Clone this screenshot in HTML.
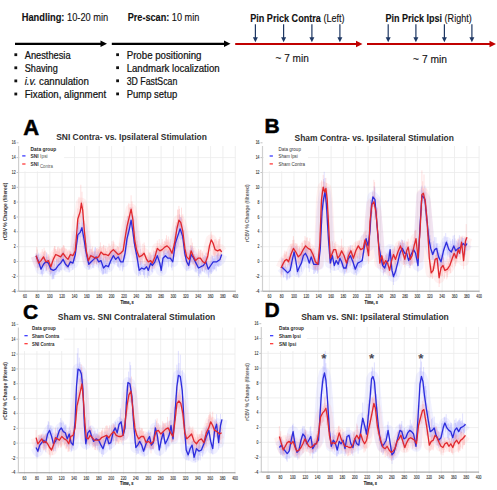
<!DOCTYPE html>
<html><head><meta charset="utf-8"><style>
html,body{margin:0;padding:0;background:#fff;}
svg{display:block;font-family:"Liberation Sans", sans-serif;}
</style></head><body>
<svg width="497" height="490" viewBox="0 0 497 490">
<rect width="497" height="490" fill="#fff"/>
<text x="21.7" y="21.2" font-size="10.6" fill="#111" stroke="#111" stroke-width="0.12" textLength="86.6" lengthAdjust="spacingAndGlyphs" xml:space="preserve"><tspan font-weight="bold">Handling:</tspan> 10-20 min</text>
<text x="127.7" y="21.2" font-size="10.6" fill="#111" stroke="#111" stroke-width="0.12" textLength="71.6" lengthAdjust="spacingAndGlyphs" xml:space="preserve"><tspan font-weight="bold">Pre-scan:</tspan> 10 min</text>
<text x="250.2" y="21.5" font-size="10.6" fill="#111" stroke="#111" stroke-width="0.12" textLength="94.4" lengthAdjust="spacingAndGlyphs" xml:space="preserve"><tspan font-weight="bold">Pin Prick Contra</tspan> (Left)</text>
<text x="385.4" y="21.5" font-size="10.6" fill="#111" stroke="#111" stroke-width="0.12" textLength="86.3" lengthAdjust="spacingAndGlyphs" xml:space="preserve"><tspan font-weight="bold">Pin Prick Ipsi</tspan> (Right)</text>
<text x="275.5" y="62.1" font-size="10.6" fill="#111" stroke="#111" stroke-width="0.12" textLength="33.3" lengthAdjust="spacingAndGlyphs" xml:space="preserve">~ 7 min</text>
<text x="413.1" y="63.2" font-size="10.6" fill="#111" stroke="#111" stroke-width="0.12" textLength="34.0" lengthAdjust="spacingAndGlyphs" xml:space="preserve">~ 7 min</text>
<line x1="15" y1="43.8" x2="101.0" y2="43.8" stroke="#000" stroke-width="2.2"/>
<polygon points="107,43.8 100.5,40.599999999999994 100.5,47.0" fill="#000"/>
<line x1="111.8" y1="43.8" x2="224.5" y2="43.8" stroke="#000" stroke-width="2.2"/>
<polygon points="230.5,43.8 224.0,40.599999999999994 224.0,47.0" fill="#000"/>
<line x1="235.2" y1="44.0" x2="356.5" y2="44.0" stroke="#c00000" stroke-width="2.2"/>
<polygon points="362.5,44.0 356.0,40.8 356.0,47.2" fill="#c00000"/>
<line x1="367" y1="44.0" x2="490.0" y2="44.0" stroke="#c00000" stroke-width="2.2"/>
<polygon points="496,44.0 489.5,40.8 489.5,47.2" fill="#c00000"/>
<line x1="255.4" y1="24.2" x2="255.4" y2="39.2" stroke="#1f3864" stroke-width="1.2"/>
<polygon points="255.4,42.2 252.9,37.2 257.9,37.2" fill="#1f3864"/>
<line x1="283.6" y1="24.2" x2="283.6" y2="39.2" stroke="#1f3864" stroke-width="1.2"/>
<polygon points="283.6,42.2 281.1,37.2 286.1,37.2" fill="#1f3864"/>
<line x1="311.9" y1="24.2" x2="311.9" y2="39.2" stroke="#1f3864" stroke-width="1.2"/>
<polygon points="311.9,42.2 309.4,37.2 314.4,37.2" fill="#1f3864"/>
<line x1="339.9" y1="24.2" x2="339.9" y2="39.2" stroke="#1f3864" stroke-width="1.2"/>
<polygon points="339.9,42.2 337.4,37.2 342.4,37.2" fill="#1f3864"/>
<line x1="388.2" y1="24.2" x2="388.2" y2="39.2" stroke="#1f3864" stroke-width="1.2"/>
<polygon points="388.2,42.2 385.7,37.2 390.7,37.2" fill="#1f3864"/>
<line x1="415.9" y1="24.2" x2="415.9" y2="39.2" stroke="#1f3864" stroke-width="1.2"/>
<polygon points="415.9,42.2 413.4,37.2 418.4,37.2" fill="#1f3864"/>
<line x1="444.4" y1="24.2" x2="444.4" y2="39.2" stroke="#1f3864" stroke-width="1.2"/>
<polygon points="444.4,42.2 441.9,37.2 446.9,37.2" fill="#1f3864"/>
<line x1="471.9" y1="24.2" x2="471.9" y2="39.2" stroke="#1f3864" stroke-width="1.2"/>
<polygon points="471.9,42.2 469.4,37.2 474.4,37.2" fill="#1f3864"/>
<rect x="14.4" y="53.3" width="2.8" height="2.8" fill="#111"/>
<text x="24.7" y="58.5" font-size="10.4" fill="#111" stroke="#111" stroke-width="0.22" textLength="45.9" lengthAdjust="spacingAndGlyphs">Anesthesia</text>
<rect x="14.4" y="66.39999999999999" width="2.8" height="2.8" fill="#111"/>
<text x="24.7" y="71.6" font-size="10.4" fill="#111" stroke="#111" stroke-width="0.22" textLength="33.099999999999994" lengthAdjust="spacingAndGlyphs">Shaving</text>
<rect x="14.4" y="79.5" width="2.8" height="2.8" fill="#111"/>
<text x="24.7" y="84.7" font-size="10.4" fill="#111" stroke="#111" stroke-width="0.22" textLength="64.1" lengthAdjust="spacingAndGlyphs"><tspan font-style="italic">i.v.</tspan> cannulation</text>
<rect x="14.4" y="92.6" width="2.8" height="2.8" fill="#111"/>
<text x="24.7" y="97.8" font-size="10.4" fill="#111" stroke="#111" stroke-width="0.22" textLength="81.5" lengthAdjust="spacingAndGlyphs">Fixation, alignment</text>
<rect x="116.2" y="53.3" width="2.8" height="2.8" fill="#111"/>
<text x="126.7" y="58.5" font-size="10.4" fill="#111" stroke="#111" stroke-width="0.22" textLength="74.8" lengthAdjust="spacingAndGlyphs">Probe positioning</text>
<rect x="116.2" y="66.3" width="2.8" height="2.8" fill="#111"/>
<text x="126.7" y="71.5" font-size="10.4" fill="#111" stroke="#111" stroke-width="0.22" textLength="92.89999999999999" lengthAdjust="spacingAndGlyphs">Landmark localization</text>
<rect x="116.2" y="79.39999999999999" width="2.8" height="2.8" fill="#111"/>
<text x="126.7" y="84.6" font-size="10.4" fill="#111" stroke="#111" stroke-width="0.22" textLength="50.599999999999994" lengthAdjust="spacingAndGlyphs">3D FastScan</text>
<rect x="116.2" y="92.5" width="2.8" height="2.8" fill="#111"/>
<text x="126.7" y="97.7" font-size="10.4" fill="#111" stroke="#111" stroke-width="0.22" textLength="50.599999999999994" lengthAdjust="spacingAndGlyphs">Pump setup</text>
<path d="M25.0 146.0V292.7 M37.4 146.0V292.7 M49.8 146.0V292.7 M62.1 146.0V292.7 M74.5 146.0V292.7 M86.9 146.0V292.7 M99.2 146.0V292.7 M111.6 146.0V292.7 M124.0 146.0V292.7 M136.3 146.0V292.7 M148.7 146.0V292.7 M161.1 146.0V292.7 M173.4 146.0V292.7 M185.8 146.0V292.7 M198.2 146.0V292.7 M210.6 146.0V292.7 M222.9 146.0V292.7 M235.3 146.0V292.7 M18.6 276.3H235.3 M18.6 261.5H235.3 M18.6 246.7H235.3 M18.6 231.8H235.3 M18.6 217.0H235.3 M18.6 202.1H235.3 M18.6 187.3H235.3 M18.6 172.5H235.3 M18.6 157.6H235.3" stroke="#ebebeb" stroke-width="0.8" fill="none"/>
<path d="M16.6 291.2H18.6 M16.6 276.3H18.6 M16.6 261.5H18.6 M16.6 246.7H18.6 M16.6 231.8H18.6 M16.6 217.0H18.6 M16.6 202.1H18.6 M16.6 187.3H18.6 M16.6 172.5H18.6 M16.6 157.6H18.6 M16.6 142.8H18.6" stroke="#999" stroke-width="0.6"/>
<line x1="18.6" y1="146.0" x2="18.6" y2="291.18" stroke="#cfcfcf" stroke-width="1.2"/>
<line x1="18.6" y1="291.18" x2="235.78799999999998" y2="291.18" stroke="#8a8a8a" stroke-width="0.9"/>
<text x="15.6" y="292.8" font-size="4.8" font-weight="normal" fill="#333" text-anchor="end" textLength="3.8" lengthAdjust="spacingAndGlyphs" stroke="#333" stroke-width="0.12">-4</text>
<text x="15.6" y="277.9" font-size="4.8" font-weight="normal" fill="#333" text-anchor="end" textLength="3.8" lengthAdjust="spacingAndGlyphs" stroke="#333" stroke-width="0.12">-2</text>
<text x="15.6" y="263.1" font-size="4.8" font-weight="normal" fill="#333" text-anchor="end" textLength="1.9" lengthAdjust="spacingAndGlyphs" stroke="#333" stroke-width="0.12">0</text>
<text x="15.6" y="248.3" font-size="4.8" font-weight="normal" fill="#333" text-anchor="end" textLength="1.9" lengthAdjust="spacingAndGlyphs" stroke="#333" stroke-width="0.12">2</text>
<text x="15.6" y="233.4" font-size="4.8" font-weight="normal" fill="#333" text-anchor="end" textLength="1.9" lengthAdjust="spacingAndGlyphs" stroke="#333" stroke-width="0.12">4</text>
<text x="15.6" y="218.6" font-size="4.8" font-weight="normal" fill="#333" text-anchor="end" textLength="1.9" lengthAdjust="spacingAndGlyphs" stroke="#333" stroke-width="0.12">6</text>
<text x="15.6" y="203.7" font-size="4.8" font-weight="normal" fill="#333" text-anchor="end" textLength="1.9" lengthAdjust="spacingAndGlyphs" stroke="#333" stroke-width="0.12">8</text>
<text x="15.6" y="188.9" font-size="4.8" font-weight="normal" fill="#333" text-anchor="end" textLength="3.8" lengthAdjust="spacingAndGlyphs" stroke="#333" stroke-width="0.12">10</text>
<text x="15.6" y="174.1" font-size="4.8" font-weight="normal" fill="#333" text-anchor="end" textLength="3.8" lengthAdjust="spacingAndGlyphs" stroke="#333" stroke-width="0.12">12</text>
<text x="15.6" y="159.2" font-size="4.8" font-weight="normal" fill="#333" text-anchor="end" textLength="3.8" lengthAdjust="spacingAndGlyphs" stroke="#333" stroke-width="0.12">14</text>
<text x="15.6" y="144.4" font-size="4.8" font-weight="normal" fill="#333" text-anchor="end" textLength="3.8" lengthAdjust="spacingAndGlyphs" stroke="#333" stroke-width="0.12">16</text>
<text x="25.0" y="298.1" font-size="4.8" font-weight="normal" fill="#333" text-anchor="middle" textLength="3.8" lengthAdjust="spacingAndGlyphs" stroke="#333" stroke-width="0.12">60</text>
<text x="37.4" y="298.1" font-size="4.8" font-weight="normal" fill="#333" text-anchor="middle" textLength="3.8" lengthAdjust="spacingAndGlyphs" stroke="#333" stroke-width="0.12">80</text>
<text x="49.8" y="298.1" font-size="4.8" font-weight="normal" fill="#333" text-anchor="middle" textLength="5.7" lengthAdjust="spacingAndGlyphs" stroke="#333" stroke-width="0.12">100</text>
<text x="62.1" y="298.1" font-size="4.8" font-weight="normal" fill="#333" text-anchor="middle" textLength="5.7" lengthAdjust="spacingAndGlyphs" stroke="#333" stroke-width="0.12">120</text>
<text x="74.5" y="298.1" font-size="4.8" font-weight="normal" fill="#333" text-anchor="middle" textLength="5.7" lengthAdjust="spacingAndGlyphs" stroke="#333" stroke-width="0.12">140</text>
<text x="86.9" y="298.1" font-size="4.8" font-weight="normal" fill="#333" text-anchor="middle" textLength="5.7" lengthAdjust="spacingAndGlyphs" stroke="#333" stroke-width="0.12">160</text>
<text x="99.2" y="298.1" font-size="4.8" font-weight="normal" fill="#333" text-anchor="middle" textLength="5.7" lengthAdjust="spacingAndGlyphs" stroke="#333" stroke-width="0.12">180</text>
<text x="111.6" y="298.1" font-size="4.8" font-weight="normal" fill="#333" text-anchor="middle" textLength="5.7" lengthAdjust="spacingAndGlyphs" stroke="#333" stroke-width="0.12">200</text>
<text x="124.0" y="298.1" font-size="4.8" font-weight="normal" fill="#333" text-anchor="middle" textLength="5.7" lengthAdjust="spacingAndGlyphs" stroke="#333" stroke-width="0.12">220</text>
<text x="136.3" y="298.1" font-size="4.8" font-weight="normal" fill="#333" text-anchor="middle" textLength="5.7" lengthAdjust="spacingAndGlyphs" stroke="#333" stroke-width="0.12">240</text>
<text x="148.7" y="298.1" font-size="4.8" font-weight="normal" fill="#333" text-anchor="middle" textLength="5.7" lengthAdjust="spacingAndGlyphs" stroke="#333" stroke-width="0.12">260</text>
<text x="161.1" y="298.1" font-size="4.8" font-weight="normal" fill="#333" text-anchor="middle" textLength="5.7" lengthAdjust="spacingAndGlyphs" stroke="#333" stroke-width="0.12">280</text>
<text x="173.4" y="298.1" font-size="4.8" font-weight="normal" fill="#333" text-anchor="middle" textLength="5.7" lengthAdjust="spacingAndGlyphs" stroke="#333" stroke-width="0.12">300</text>
<text x="185.8" y="298.1" font-size="4.8" font-weight="normal" fill="#333" text-anchor="middle" textLength="5.7" lengthAdjust="spacingAndGlyphs" stroke="#333" stroke-width="0.12">320</text>
<text x="198.2" y="298.1" font-size="4.8" font-weight="normal" fill="#333" text-anchor="middle" textLength="5.7" lengthAdjust="spacingAndGlyphs" stroke="#333" stroke-width="0.12">340</text>
<text x="210.6" y="298.1" font-size="4.8" font-weight="normal" fill="#333" text-anchor="middle" textLength="5.7" lengthAdjust="spacingAndGlyphs" stroke="#333" stroke-width="0.12">360</text>
<text x="222.9" y="298.1" font-size="4.8" font-weight="normal" fill="#333" text-anchor="middle" textLength="5.7" lengthAdjust="spacingAndGlyphs" stroke="#333" stroke-width="0.12">380</text>
<text x="235.3" y="298.1" font-size="4.8" font-weight="normal" fill="#333" text-anchor="middle" textLength="5.7" lengthAdjust="spacingAndGlyphs" stroke="#333" stroke-width="0.12">400</text>
<text x="127.1" y="303.8" font-size="5.4" font-weight="bold" fill="#222" text-anchor="middle" textLength="13.2" lengthAdjust="spacingAndGlyphs" stroke="#222" stroke-width="0.2">Time, s</text>
<text x="7.300000000000001" y="211.5" font-size="4.6" font-weight="bold" fill="#333" text-anchor="middle" transform="rotate(-90 7.300000000000001 211.5)" textLength="57.5" lengthAdjust="spacingAndGlyphs">rCBV % Change (filtered)</text>
<text x="23.2" y="134.9" font-size="22" font-weight="bold" fill="#000" stroke="#000" stroke-width="0.5">A</text>
<text x="56.2" y="139.9" font-size="9.9" font-weight="bold" fill="#303030" text-anchor="start" textLength="150.6" lengthAdjust="spacingAndGlyphs">SNI Contra- vs. Ipsilateral Stimulation</text>
<path d="M36.1 253.4V260.6 M36.7 253.8V262.2 M37.3 255.3V267.6 M38.0 254.4V267.8 M38.6 252.6V267.0 M39.2 258.7V266.2 M39.8 257.7V267.8 M40.4 263.2V270.1 M41.0 261.9V274.1 M41.6 262.7V273.5 M42.2 258.3V276.5 M42.9 261.3V274.3 M43.5 257.2V271.3 M44.1 253.9V266.7 M44.7 259.3V268.2 M45.3 258.7V266.1 M45.9 258.9V271.0 M46.5 252.5V270.9 M47.1 254.5V266.9 M47.8 259.0V267.2 M48.4 261.0V265.6 M49.0 259.6V269.1 M49.6 259.5V271.9 M50.2 265.3V276.1 M50.8 264.5V274.3 M51.4 265.3V273.7 M52.0 260.6V279.4 M52.7 267.2V279.3 M53.3 262.3V278.6 M53.9 266.6V279.1 M54.5 263.8V274.7 M55.1 267.4V274.9 M55.7 266.4V272.8 M56.3 259.6V272.3 M56.9 259.2V271.5 M57.6 264.0V270.8 M58.2 262.7V268.2 M58.8 258.1V271.9 M59.4 261.4V271.6 M60.0 258.1V266.1 M60.6 260.7V270.1 M61.2 253.0V270.4 M61.8 255.1V263.5 M62.4 252.7V262.5 M63.1 251.2V261.7 M63.7 250.7V265.7 M64.3 258.7V264.2 M64.9 259.6V270.1 M65.5 260.8V266.6 M66.1 257.4V267.7 M66.7 262.7V268.6 M67.3 263.5V269.4 M68.0 264.5V268.8 M68.6 263.0V269.9 M69.2 255.1V272.6 M69.8 257.4V265.8 M70.4 252.6V265.3 M71.0 256.7V267.9 M71.6 257.9V265.6 M72.2 253.8V265.2 M72.9 259.1V270.0 M73.5 257.4V263.0 M74.1 256.4V266.2 M74.7 250.7V260.9 M75.3 244.7V261.4 M75.9 246.3V252.8 M76.5 232.3V249.7 M77.1 231.7V244.5 M77.8 219.5V242.4 M78.4 220.9V239.6 M79.0 222.7V236.0 M79.6 230.1V237.3 M80.2 227.4V244.6 M81.1 225.7V237.1 M81.9 212.0V234.5 M82.6 215.9V240.2 M83.2 222.9V237.7 M83.9 233.7V249.0 M84.5 236.6V251.1 M85.1 237.4V257.2 M85.7 242.6V260.3 M86.3 243.4V260.8 M86.9 245.2V263.1 M87.6 253.7V267.1 M88.2 254.4V267.3 M88.8 256.8V269.9 M89.4 254.8V269.2 M90.0 254.1V267.9 M90.6 254.4V264.5 M91.2 252.4V264.4 M91.8 256.8V264.7 M92.4 252.3V267.5 M93.1 255.2V262.3 M93.7 254.1V268.2 M94.3 249.6V262.6 M94.9 247.5V261.8 M95.5 247.2V260.0 M96.1 254.8V263.4 M96.7 254.2V264.6 M97.3 254.0V262.4 M98.0 251.4V262.7 M98.6 258.2V267.7 M99.2 255.2V265.4 M99.8 257.7V264.1 M100.4 252.6V265.3 M101.0 257.5V269.5 M101.6 254.6V271.2 M102.2 258.5V274.2 M102.9 261.6V275.1 M103.5 258.4V274.1 M104.1 262.0V273.7 M104.7 259.8V270.0 M105.3 256.2V273.4 M105.9 256.2V274.1 M106.5 262.9V267.9 M107.1 262.8V274.1 M107.8 257.0V269.7 M108.4 262.6V268.7 M109.0 261.2V267.9 M109.6 257.2V270.0 M110.2 253.0V264.6 M110.8 257.0V263.8 M111.4 252.6V264.2 M112.0 251.5V260.2 M112.7 253.7V262.6 M113.3 247.9V263.9 M113.9 253.8V262.4 M114.5 254.1V264.3 M115.1 249.0V261.3 M115.7 257.2V263.2 M116.3 249.4V260.9 M116.9 255.7V262.6 M117.6 252.8V266.5 M118.2 254.9V266.7 M118.8 254.4V268.1 M119.4 252.3V262.1 M120.0 257.7V270.5 M120.6 258.5V265.6 M121.2 254.3V265.5 M121.8 252.2V264.4 M122.4 259.5V271.4 M123.1 257.1V269.5 M123.7 255.1V267.1 M124.4 250.4V258.7 M125.0 247.4V259.6 M125.7 236.0V258.4 M126.3 230.5V251.6 M127.0 226.8V245.5 M127.6 226.8V245.0 M128.2 225.5V239.1 M128.8 221.6V236.2 M129.4 222.0V234.8 M130.3 219.8V227.4 M131.1 207.1V223.4 M132.0 220.9V230.3 M132.8 222.0V236.7 M133.5 233.0V244.1 M134.1 230.7V243.0 M134.8 240.4V249.7 M135.4 241.1V254.8 M136.1 244.5V257.8 M136.8 252.1V258.9 M137.4 257.1V267.8 M138.0 257.0V267.1 M138.6 260.7V276.2 M139.2 264.1V273.3 M139.8 267.4V274.1 M140.4 260.9V275.0 M141.0 262.7V270.6 M141.7 261.3V271.5 M142.3 265.7V272.0 M142.9 264.3V270.7 M143.5 266.0V275.0 M144.1 264.1V275.8 M144.7 263.8V278.4 M145.3 264.1V270.1 M145.9 264.0V270.7 M146.6 257.3V268.9 M147.4 258.8V278.1 M148.3 263.2V274.7 M148.9 259.3V276.4 M149.5 262.4V272.2 M150.1 259.5V267.4 M150.7 254.4V265.3 M151.6 262.0V271.6 M152.4 258.6V272.4 M153.0 262.4V268.9 M153.7 254.6V267.1 M154.3 259.8V266.2 M154.9 253.2V264.9 M155.5 257.0V265.6 M156.1 253.0V263.2 M156.7 255.0V262.7 M157.3 253.6V265.4 M157.9 250.0V263.2 M158.6 252.5V264.6 M159.2 252.1V266.7 M159.8 255.2V265.6 M160.5 262.4V272.4 M161.2 262.5V272.7 M162.1 257.6V273.6 M163.0 254.4V263.2 M163.6 250.8V266.3 M164.2 252.6V261.8 M164.8 247.9V264.5 M165.4 253.0V261.5 M166.0 249.5V258.5 M166.6 253.0V262.0 M167.2 251.4V260.4 M167.9 251.2V262.5 M168.5 249.9V267.3 M169.1 250.5V260.7 M169.7 253.4V261.1 M170.3 250.9V262.0 M170.9 250.4V262.0 M171.5 257.2V267.8 M172.1 252.5V270.5 M172.8 259.5V265.9 M173.4 251.9V260.7 M174.0 243.2V256.7 M174.6 243.9V253.8 M175.2 233.9V250.9 M175.8 237.6V246.2 M176.4 226.5V249.3 M177.0 232.8V248.3 M177.7 234.1V244.4 M178.3 220.4V246.1 M178.9 219.6V236.3 M179.5 214.4V238.7 M180.1 217.1V235.3 M180.7 217.1V240.1 M181.3 217.8V238.5 M181.9 229.1V239.2 M182.6 231.3V238.6 M183.2 237.9V246.0 M183.8 239.4V253.7 M184.4 245.7V253.2 M185.0 245.6V256.6 M185.9 249.7V261.4 M186.7 256.4V271.2 M187.4 259.9V265.8 M188.0 256.0V269.5 M188.7 261.9V269.0 M189.3 257.5V264.9 M189.9 250.1V268.3 M190.5 254.0V263.0 M191.1 245.5V262.4 M191.7 247.4V262.4 M192.3 246.4V263.7 M193.0 250.6V263.2 M193.6 255.8V264.2 M194.2 254.2V262.2 M194.8 254.8V262.6 M195.4 257.4V271.6 M196.0 257.8V267.0 M196.6 257.1V271.7 M197.2 261.5V267.6 M197.9 257.7V270.9 M198.5 258.9V276.0 M199.1 260.2V277.5 M199.7 262.5V274.1 M200.3 264.7V272.6 M200.9 263.2V274.6 M201.5 261.4V269.2 M202.1 262.5V270.9 M202.8 261.3V271.6 M203.4 262.0V268.1 M204.0 255.1V266.9 M204.6 260.4V272.3 M205.2 256.2V269.9 M205.8 252.8V269.5 M206.4 259.8V271.3 M207.0 256.3V273.4 M207.7 261.6V269.6 M208.3 266.9V276.5 M208.9 261.6V278.3 M209.5 263.6V271.9 M210.1 262.8V272.9 M210.7 261.0V271.6 M211.3 260.6V273.9 M211.9 254.9V272.1 M212.6 256.0V268.8 M213.2 257.9V270.6 M213.8 258.9V269.0 M214.4 255.7V269.2 M215.0 258.2V269.7 M215.6 259.7V265.9 M216.2 254.7V271.3 M216.8 255.3V265.4 M217.5 254.4V266.1 M218.1 252.9V265.9 M218.7 256.7V266.8 M219.4 255.5V265.4 M220.0 255.4V261.8 M220.9 253.2V265.8" stroke="#7878ff" stroke-opacity="0.22" stroke-width="1" fill="none"/>
<path d="M36.1 253.4V263.8 M36.7 246.9V262.2 M37.3 249.5V264.1 M38.0 254.9V270.4 M38.6 260.1V265.2 M39.2 259.6V264.6 M39.8 257.1V264.4 M40.4 258.8V265.0 M41.0 256.1V269.5 M41.6 257.7V266.4 M42.2 249.1V266.3 M42.9 255.0V260.6 M43.5 252.4V259.0 M44.1 247.7V266.0 M44.7 250.9V266.1 M45.3 250.5V265.0 M45.9 259.7V265.9 M46.5 256.8V269.6 M47.1 259.2V269.8 M47.8 256.8V263.0 M48.4 254.3V269.4 M49.0 256.0V269.5 M49.6 258.9V268.1 M50.2 263.1V273.9 M50.8 260.8V269.3 M51.4 262.0V270.5 M52.0 256.1V272.6 M52.7 256.6V266.9 M53.3 252.1V261.6 M53.9 247.8V262.5 M54.5 246.0V266.0 M55.1 246.2V258.4 M55.7 249.0V259.9 M56.3 250.7V260.1 M56.9 251.1V261.4 M57.6 247.3V262.6 M58.2 246.6V264.0 M58.8 251.5V262.9 M59.4 247.7V258.6 M60.0 249.1V261.7 M60.6 254.2V260.6 M61.2 247.4V263.0 M61.8 248.8V264.6 M62.4 247.2V256.2 M63.1 245.6V258.9 M63.7 245.0V260.9 M64.3 246.4V257.3 M64.9 248.3V259.2 M65.5 254.2V264.8 M66.1 248.7V267.5 M66.7 253.9V268.0 M67.3 251.7V265.8 M68.0 250.8V267.9 M68.6 255.9V264.7 M69.2 250.3V263.8 M69.8 251.3V265.8 M70.4 251.3V263.3 M71.0 251.6V257.2 M71.6 252.7V264.6 M72.2 253.3V259.1 M72.9 247.3V259.6 M73.5 243.6V263.3 M74.1 247.7V260.7 M74.7 241.9V259.5 M75.3 239.1V254.8 M75.9 234.8V246.4 M76.5 232.8V244.0 M77.1 221.3V229.0 M77.8 208.4V228.8 M78.4 214.5V221.8 M79.0 196.9V223.5 M79.6 210.9V224.2 M80.2 206.4V217.5 M80.8 184.8V222.1 M81.4 200.5V205.4 M82.0 191.7V212.8 M82.7 205.9V215.5 M83.5 202.5V224.5 M84.4 220.9V237.9 M85.0 232.4V243.5 M85.7 235.5V246.8 M86.3 243.1V252.9 M87.0 252.1V256.9 M87.6 253.1V262.0 M88.3 254.9V263.3 M88.9 250.9V265.0 M89.5 248.7V263.9 M90.1 253.6V266.9 M90.7 249.1V259.9 M91.3 249.3V261.8 M92.0 248.4V259.0 M92.6 246.5V262.5 M93.2 251.4V259.1 M93.8 254.1V265.2 M94.4 252.4V263.7 M95.0 251.1V262.2 M95.6 256.1V260.2 M96.4 248.5V264.0 M97.1 248.3V265.2 M97.8 250.1V261.3 M98.6 249.0V262.7 M99.2 249.4V260.5 M99.8 246.5V264.0 M100.4 242.4V263.3 M101.0 249.7V258.1 M101.6 247.9V255.8 M102.2 246.6V255.4 M102.9 251.7V261.5 M103.5 244.9V260.6 M104.1 245.5V264.3 M104.7 251.7V258.0 M105.3 248.3V258.2 M105.9 245.8V260.1 M106.5 251.0V264.7 M107.1 251.1V261.6 M107.8 247.2V264.4 M108.4 253.1V259.7 M109.0 243.6V260.4 M109.6 249.7V259.4 M110.2 246.1V259.1 M110.8 248.7V257.6 M111.4 249.2V258.9 M112.0 241.2V253.5 M112.7 246.7V258.8 M113.3 240.5V252.4 M113.9 242.2V254.9 M114.5 248.7V258.8 M115.1 248.6V256.4 M115.7 248.8V259.6 M116.3 247.5V262.9 M116.9 251.3V258.4 M117.6 246.0V256.2 M118.2 247.0V256.5 M118.8 247.3V256.5 M119.4 251.3V261.2 M120.0 242.7V260.2 M120.6 250.7V261.3 M121.2 250.3V261.6 M121.8 248.1V259.0 M122.4 249.3V254.2 M123.1 244.1V257.0 M123.7 239.8V249.9 M124.4 237.4V247.3 M125.0 232.1V241.4 M125.7 220.0V238.2 M126.3 227.7V233.6 M127.0 221.2V230.0 M127.6 215.7V234.9 M128.2 215.9V225.8 M128.8 203.2V230.9 M129.4 207.6V227.3 M130.3 207.1V222.3 M131.1 195.3V211.4 M132.0 201.3V220.1 M132.8 206.8V231.7 M133.5 215.9V232.1 M134.1 219.5V238.4 M134.8 238.4V248.0 M135.4 231.4V251.7 M136.1 236.3V255.4 M136.8 241.5V260.4 M137.4 240.6V257.5 M138.0 244.4V260.0 M138.6 250.6V259.3 M139.2 253.7V260.6 M139.8 253.9V264.7 M140.4 248.9V264.9 M141.0 253.2V262.5 M141.7 253.0V259.8 M142.3 252.2V264.1 M142.9 243.8V257.8 M143.5 251.2V258.6 M144.1 242.5V256.5 M144.7 245.2V262.2 M145.3 253.7V266.3 M145.9 255.8V260.4 M146.6 255.4V263.4 M147.4 255.3V266.3 M148.3 256.8V271.5 M148.9 252.3V265.6 M149.5 252.9V269.3 M150.1 255.8V270.3 M150.7 252.3V265.5 M151.6 255.3V264.8 M152.4 259.3V268.5 M153.0 255.1V263.6 M153.7 250.2V264.7 M154.3 256.2V268.7 M154.9 251.0V260.8 M155.5 247.7V256.8 M156.1 250.1V263.4 M156.7 245.9V255.2 M157.3 240.6V252.9 M157.9 246.0V252.3 M158.6 247.4V259.3 M159.2 239.1V254.3 M159.8 248.5V261.1 M160.4 245.0V258.5 M161.0 246.2V252.5 M161.6 245.8V252.0 M162.2 239.2V251.8 M162.8 246.5V251.2 M163.4 243.9V253.3 M164.1 244.0V258.6 M164.7 240.7V251.7 M165.3 242.2V250.4 M165.9 238.5V250.3 M166.5 235.2V250.7 M167.1 242.1V253.5 M167.7 239.4V252.8 M168.3 236.5V253.6 M169.0 242.4V257.7 M169.6 244.9V257.2 M170.2 239.2V257.4 M170.8 245.3V255.7 M171.4 249.0V261.7 M172.0 251.2V256.4 M172.6 247.6V254.9 M173.2 240.7V256.9 M173.9 243.3V257.2 M174.5 236.1V250.9 M175.1 232.1V251.1 M175.7 225.4V245.9 M176.3 222.1V243.0 M176.9 222.8V232.7 M177.6 209.6V228.2 M178.2 209.6V227.6 M178.9 205.9V225.5 M179.5 208.9V226.7 M180.2 219.5V231.3 M180.8 216.9V227.5 M181.5 207.6V235.3 M182.1 219.1V232.0 M182.8 214.3V236.1 M183.4 234.7V240.3 M184.1 229.9V245.3 M184.8 243.6V255.8 M185.4 243.5V262.1 M186.1 247.4V259.3 M186.7 250.1V266.8 M187.3 252.0V260.1 M187.9 248.6V264.7 M188.6 252.8V260.8 M189.2 251.6V267.5 M189.8 250.1V264.7 M190.5 245.4V256.8 M191.1 238.3V260.9 M191.8 248.2V261.8 M192.4 242.6V256.6 M193.1 251.1V264.2 M193.7 248.0V259.1 M194.3 256.1V265.2 M194.9 254.0V268.4 M195.5 256.0V269.1 M196.1 256.5V264.7 M196.8 253.8V264.2 M197.4 256.1V265.7 M198.0 255.5V268.2 M198.6 248.9V264.7 M199.2 250.8V261.4 M199.8 255.3V260.4 M200.4 249.8V263.5 M201.0 249.6V262.1 M201.7 257.6V263.5 M202.3 251.3V270.9 M202.9 253.5V264.2 M203.5 257.1V266.9 M204.1 258.5V264.5 M204.7 255.4V266.0 M205.3 257.8V270.4 M205.9 256.9V268.7 M206.6 252.6V264.8 M207.2 247.3V259.6 M207.8 253.0V260.3 M208.6 245.0V258.1 M209.5 243.9V248.4 M210.3 237.4V251.1 M211.2 231.5V241.9 M211.9 235.4V247.4 M212.5 240.1V244.4 M213.2 241.3V254.5 M213.8 241.9V256.9 M214.5 239.4V256.2 M215.1 246.9V254.6 M215.7 239.1V259.5 M216.3 240.5V253.6 M217.0 245.6V252.6 M217.6 244.3V260.6 M218.2 240.8V259.5 M218.8 239.1V256.0 M219.4 239.0V252.0 M220.0 236.9V258.9 M220.9 248.4V260.5" stroke="#ff7878" stroke-opacity="0.22" stroke-width="1" fill="none"/>
<polyline points="36.1,255.7 38.6,261.8 41.0,269.2 43.5,264.3 45.9,261.8 48.4,263.1 50.8,269.2 53.3,270.4 55.7,269.2 58.2,265.5 60.6,263.1 63.1,259.4 65.5,264.3 68.0,266.7 70.4,261.8 72.9,263.1 75.3,254.5 77.8,234.9 80.2,232.4 81.9,227.6 83.9,238.6 86.3,253.3 88.8,264.3 91.2,261.8 93.7,259.4 96.1,256.9 98.6,261.8 101.0,260.6 103.5,268.0 105.9,265.5 108.4,266.7 110.8,260.6 113.3,255.7 115.7,259.4 118.2,256.9 120.6,261.8 123.1,261.8 125.0,253.3 127.0,238.6 129.4,228.8 131.1,220.2 132.8,231.2 134.8,245.9 136.8,255.7 139.2,270.4 141.7,268.0 144.1,269.2 146.6,266.7 148.3,270.4 150.7,263.1 152.4,265.5 154.9,261.8 157.3,255.7 159.8,263.1 161.2,270.4 163.0,258.2 165.4,255.7 167.9,258.2 170.3,258.2 172.8,261.8 175.2,243.5 177.7,236.1 180.1,228.8 182.6,236.1 185.0,254.5 186.7,261.8 188.7,265.5 191.1,254.5 193.6,258.2 196.0,263.1 198.5,268.0 200.9,266.7 203.4,265.5 205.8,261.8 208.3,269.2 210.7,265.5 213.2,261.8 216.8,261.8 220.0,259.4 221.7,254.5" fill="none" stroke="#9090ff" stroke-opacity="0.13" stroke-width="11" stroke-linejoin="round"/>
<polyline points="36.1,255.7 38.6,263.1 41.0,260.6 43.5,256.9 45.9,261.8 48.4,260.6 50.8,266.7 53.3,259.4 55.7,254.5 58.2,255.7 60.6,256.9 63.1,253.3 65.5,256.9 68.0,259.4 70.4,254.5 72.9,255.7 75.3,250.8 77.8,219.0 80.2,211.6 81.4,203.1 82.7,210.4 84.4,231.2 86.3,250.8 88.3,260.6 90.7,255.7 93.2,256.9 95.6,258.2 98.6,256.9 101.0,252.0 103.5,254.5 105.9,254.5 108.4,255.7 110.8,252.0 113.3,249.6 115.7,252.0 118.2,254.5 120.6,253.3 123.1,250.8 125.0,238.6 127.0,226.3 129.4,216.5 131.1,209.2 132.8,219.0 134.8,241.0 136.8,250.8 139.2,256.9 141.7,255.7 144.1,253.3 146.6,259.4 148.3,261.8 150.7,260.6 152.4,263.1 154.9,256.9 157.3,248.4 159.8,250.8 162.2,249.6 164.7,247.1 167.1,245.9 169.6,248.4 172.0,253.3 174.5,243.5 176.9,228.8 178.9,220.2 180.8,222.7 182.8,231.2 184.8,248.4 186.7,256.9 189.2,259.4 191.1,250.8 193.1,255.7 195.5,260.6 198.0,258.2 200.4,258.2 202.9,261.8 205.3,263.1 207.8,255.7 209.5,245.9 211.2,239.8 213.2,243.5 215.1,249.6 217.6,250.8 220.0,249.6 221.7,252.0" fill="none" stroke="#ff9090" stroke-opacity="0.13" stroke-width="11" stroke-linejoin="round"/>
<polyline points="36.1,255.7 38.6,261.8 41.0,269.2 43.5,264.3 45.9,261.8 48.4,263.1 50.8,269.2 53.3,270.4 55.7,269.2 58.2,265.5 60.6,263.1 63.1,259.4 65.5,264.3 68.0,266.7 70.4,261.8 72.9,263.1 75.3,254.5 77.8,234.9 80.2,232.4 81.9,227.6 83.9,238.6 86.3,253.3 88.8,264.3 91.2,261.8 93.7,259.4 96.1,256.9 98.6,261.8 101.0,260.6 103.5,268.0 105.9,265.5 108.4,266.7 110.8,260.6 113.3,255.7 115.7,259.4 118.2,256.9 120.6,261.8 123.1,261.8 125.0,253.3 127.0,238.6 129.4,228.8 131.1,220.2 132.8,231.2 134.8,245.9 136.8,255.7 139.2,270.4 141.7,268.0 144.1,269.2 146.6,266.7 148.3,270.4 150.7,263.1 152.4,265.5 154.9,261.8 157.3,255.7 159.8,263.1 161.2,270.4 163.0,258.2 165.4,255.7 167.9,258.2 170.3,258.2 172.8,261.8 175.2,243.5 177.7,236.1 180.1,228.8 182.6,236.1 185.0,254.5 186.7,261.8 188.7,265.5 191.1,254.5 193.6,258.2 196.0,263.1 198.5,268.0 200.9,266.7 203.4,265.5 205.8,261.8 208.3,269.2 210.7,265.5 213.2,261.8 216.8,261.8 220.0,259.4 221.7,254.5" fill="none" stroke="#2c2cdc" stroke-width="1.3" stroke-linejoin="round"/>
<polyline points="36.1,255.7 38.6,263.1 41.0,260.6 43.5,256.9 45.9,261.8 48.4,260.6 50.8,266.7 53.3,259.4 55.7,254.5 58.2,255.7 60.6,256.9 63.1,253.3 65.5,256.9 68.0,259.4 70.4,254.5 72.9,255.7 75.3,250.8 77.8,219.0 80.2,211.6 81.4,203.1 82.7,210.4 84.4,231.2 86.3,250.8 88.3,260.6 90.7,255.7 93.2,256.9 95.6,258.2 98.6,256.9 101.0,252.0 103.5,254.5 105.9,254.5 108.4,255.7 110.8,252.0 113.3,249.6 115.7,252.0 118.2,254.5 120.6,253.3 123.1,250.8 125.0,238.6 127.0,226.3 129.4,216.5 131.1,209.2 132.8,219.0 134.8,241.0 136.8,250.8 139.2,256.9 141.7,255.7 144.1,253.3 146.6,259.4 148.3,261.8 150.7,260.6 152.4,263.1 154.9,256.9 157.3,248.4 159.8,250.8 162.2,249.6 164.7,247.1 167.1,245.9 169.6,248.4 172.0,253.3 174.5,243.5 176.9,228.8 178.9,220.2 180.8,222.7 182.8,231.2 184.8,248.4 186.7,256.9 189.2,259.4 191.1,250.8 193.1,255.7 195.5,260.6 198.0,258.2 200.4,258.2 202.9,261.8 205.3,263.1 207.8,255.7 209.5,245.9 211.2,239.8 213.2,243.5 215.1,249.6 217.6,250.8 220.0,249.6 221.7,252.0" fill="none" stroke="#e0282e" stroke-width="1.3" stroke-linejoin="round"/>
<rect x="20.1" y="145.0" width="44" height="26.400000000000006" fill="#fff"/>
<text x="30.6" y="150.9" font-size="5.2" font-weight="bold" fill="#2a2a2a" text-anchor="start" textLength="25.6" lengthAdjust="spacingAndGlyphs">Data group</text>
<line x1="22.2" y1="155.9" x2="25.5" y2="155.9" stroke="#2b2bff" stroke-width="1.2"/>
<text x="30.6" y="158.20000000000002" font-size="5.2" fill="#333" textLength="17.1" lengthAdjust="spacingAndGlyphs"><tspan font-weight="bold">SNI</tspan> <tspan fill="#555">Ipsi</tspan></text>
<line x1="22.2" y1="164.0" x2="25.5" y2="164.0" stroke="#ff2b2b" stroke-width="1.2"/>
<text x="30.6" y="166.3" font-size="5.2" font-weight="bold" fill="#333" text-anchor="start" textLength="7.9" lengthAdjust="spacingAndGlyphs">SNI</text>
<text x="40.0" y="168.0" font-size="5.2" font-weight="normal" fill="#555" text-anchor="start" textLength="12.9" lengthAdjust="spacingAndGlyphs">Contra</text>
<path d="M269.4 146.0V292.7 M281.7 146.0V292.7 M294.0 146.0V292.7 M306.4 146.0V292.7 M318.7 146.0V292.7 M331.1 146.0V292.7 M343.4 146.0V292.7 M355.7 146.0V292.7 M368.1 146.0V292.7 M380.4 146.0V292.7 M392.8 146.0V292.7 M405.1 146.0V292.7 M417.4 146.0V292.7 M429.8 146.0V292.7 M442.1 146.0V292.7 M454.5 146.0V292.7 M466.8 146.0V292.7 M479.1 146.0V292.7 M262.5 276.3H479.1 M262.5 261.5H479.1 M262.5 246.7H479.1 M262.5 231.8H479.1 M262.5 217.0H479.1 M262.5 202.1H479.1 M262.5 187.3H479.1 M262.5 172.5H479.1 M262.5 157.6H479.1" stroke="#ebebeb" stroke-width="0.8" fill="none"/>
<path d="M260.5 291.2H262.5 M260.5 276.3H262.5 M260.5 261.5H262.5 M260.5 246.7H262.5 M260.5 231.8H262.5 M260.5 217.0H262.5 M260.5 202.1H262.5 M260.5 187.3H262.5 M260.5 172.5H262.5 M260.5 157.6H262.5 M260.5 142.8H262.5" stroke="#999" stroke-width="0.6"/>
<line x1="262.5" y1="146.0" x2="262.5" y2="291.18" stroke="#cfcfcf" stroke-width="1.2"/>
<line x1="262.5" y1="291.18" x2="479.64" y2="291.18" stroke="#8a8a8a" stroke-width="0.9"/>
<text x="259.5" y="292.8" font-size="4.8" font-weight="normal" fill="#333" text-anchor="end" textLength="3.8" lengthAdjust="spacingAndGlyphs" stroke="#333" stroke-width="0.12">-4</text>
<text x="259.5" y="277.9" font-size="4.8" font-weight="normal" fill="#333" text-anchor="end" textLength="3.8" lengthAdjust="spacingAndGlyphs" stroke="#333" stroke-width="0.12">-2</text>
<text x="259.5" y="263.1" font-size="4.8" font-weight="normal" fill="#333" text-anchor="end" textLength="1.9" lengthAdjust="spacingAndGlyphs" stroke="#333" stroke-width="0.12">0</text>
<text x="259.5" y="248.3" font-size="4.8" font-weight="normal" fill="#333" text-anchor="end" textLength="1.9" lengthAdjust="spacingAndGlyphs" stroke="#333" stroke-width="0.12">2</text>
<text x="259.5" y="233.4" font-size="4.8" font-weight="normal" fill="#333" text-anchor="end" textLength="1.9" lengthAdjust="spacingAndGlyphs" stroke="#333" stroke-width="0.12">4</text>
<text x="259.5" y="218.6" font-size="4.8" font-weight="normal" fill="#333" text-anchor="end" textLength="1.9" lengthAdjust="spacingAndGlyphs" stroke="#333" stroke-width="0.12">6</text>
<text x="259.5" y="203.7" font-size="4.8" font-weight="normal" fill="#333" text-anchor="end" textLength="1.9" lengthAdjust="spacingAndGlyphs" stroke="#333" stroke-width="0.12">8</text>
<text x="259.5" y="188.9" font-size="4.8" font-weight="normal" fill="#333" text-anchor="end" textLength="3.8" lengthAdjust="spacingAndGlyphs" stroke="#333" stroke-width="0.12">10</text>
<text x="259.5" y="174.1" font-size="4.8" font-weight="normal" fill="#333" text-anchor="end" textLength="3.8" lengthAdjust="spacingAndGlyphs" stroke="#333" stroke-width="0.12">12</text>
<text x="259.5" y="159.2" font-size="4.8" font-weight="normal" fill="#333" text-anchor="end" textLength="3.8" lengthAdjust="spacingAndGlyphs" stroke="#333" stroke-width="0.12">14</text>
<text x="259.5" y="144.4" font-size="4.8" font-weight="normal" fill="#333" text-anchor="end" textLength="3.8" lengthAdjust="spacingAndGlyphs" stroke="#333" stroke-width="0.12">16</text>
<text x="269.4" y="298.1" font-size="4.8" font-weight="normal" fill="#333" text-anchor="middle" textLength="3.8" lengthAdjust="spacingAndGlyphs" stroke="#333" stroke-width="0.12">60</text>
<text x="281.7" y="298.1" font-size="4.8" font-weight="normal" fill="#333" text-anchor="middle" textLength="3.8" lengthAdjust="spacingAndGlyphs" stroke="#333" stroke-width="0.12">80</text>
<text x="294.0" y="298.1" font-size="4.8" font-weight="normal" fill="#333" text-anchor="middle" textLength="5.7" lengthAdjust="spacingAndGlyphs" stroke="#333" stroke-width="0.12">100</text>
<text x="306.4" y="298.1" font-size="4.8" font-weight="normal" fill="#333" text-anchor="middle" textLength="5.7" lengthAdjust="spacingAndGlyphs" stroke="#333" stroke-width="0.12">120</text>
<text x="318.7" y="298.1" font-size="4.8" font-weight="normal" fill="#333" text-anchor="middle" textLength="5.7" lengthAdjust="spacingAndGlyphs" stroke="#333" stroke-width="0.12">140</text>
<text x="331.1" y="298.1" font-size="4.8" font-weight="normal" fill="#333" text-anchor="middle" textLength="5.7" lengthAdjust="spacingAndGlyphs" stroke="#333" stroke-width="0.12">160</text>
<text x="343.4" y="298.1" font-size="4.8" font-weight="normal" fill="#333" text-anchor="middle" textLength="5.7" lengthAdjust="spacingAndGlyphs" stroke="#333" stroke-width="0.12">180</text>
<text x="355.7" y="298.1" font-size="4.8" font-weight="normal" fill="#333" text-anchor="middle" textLength="5.7" lengthAdjust="spacingAndGlyphs" stroke="#333" stroke-width="0.12">200</text>
<text x="368.1" y="298.1" font-size="4.8" font-weight="normal" fill="#333" text-anchor="middle" textLength="5.7" lengthAdjust="spacingAndGlyphs" stroke="#333" stroke-width="0.12">220</text>
<text x="380.4" y="298.1" font-size="4.8" font-weight="normal" fill="#333" text-anchor="middle" textLength="5.7" lengthAdjust="spacingAndGlyphs" stroke="#333" stroke-width="0.12">240</text>
<text x="392.8" y="298.1" font-size="4.8" font-weight="normal" fill="#333" text-anchor="middle" textLength="5.7" lengthAdjust="spacingAndGlyphs" stroke="#333" stroke-width="0.12">260</text>
<text x="405.1" y="298.1" font-size="4.8" font-weight="normal" fill="#333" text-anchor="middle" textLength="5.7" lengthAdjust="spacingAndGlyphs" stroke="#333" stroke-width="0.12">280</text>
<text x="417.4" y="298.1" font-size="4.8" font-weight="normal" fill="#333" text-anchor="middle" textLength="5.7" lengthAdjust="spacingAndGlyphs" stroke="#333" stroke-width="0.12">300</text>
<text x="429.8" y="298.1" font-size="4.8" font-weight="normal" fill="#333" text-anchor="middle" textLength="5.7" lengthAdjust="spacingAndGlyphs" stroke="#333" stroke-width="0.12">320</text>
<text x="442.1" y="298.1" font-size="4.8" font-weight="normal" fill="#333" text-anchor="middle" textLength="5.7" lengthAdjust="spacingAndGlyphs" stroke="#333" stroke-width="0.12">340</text>
<text x="454.5" y="298.1" font-size="4.8" font-weight="normal" fill="#333" text-anchor="middle" textLength="5.7" lengthAdjust="spacingAndGlyphs" stroke="#333" stroke-width="0.12">360</text>
<text x="466.8" y="298.1" font-size="4.8" font-weight="normal" fill="#333" text-anchor="middle" textLength="5.7" lengthAdjust="spacingAndGlyphs" stroke="#333" stroke-width="0.12">380</text>
<text x="479.1" y="298.1" font-size="4.8" font-weight="normal" fill="#333" text-anchor="middle" textLength="5.7" lengthAdjust="spacingAndGlyphs" stroke="#333" stroke-width="0.12">400</text>
<text x="371.2" y="303.8" font-size="5.4" font-weight="bold" fill="#222" text-anchor="middle" textLength="13.2" lengthAdjust="spacingAndGlyphs" stroke="#222" stroke-width="0.2">Time, s</text>
<text x="249.1" y="213.2" font-size="4.6" font-weight="bold" fill="#666" text-anchor="middle" transform="rotate(-90 249.1 213.2)" textLength="57.5" lengthAdjust="spacingAndGlyphs">rCBV % Change (filtered)</text>
<text x="264.6" y="132.7" font-size="21" font-weight="bold" fill="#000" stroke="#000" stroke-width="0.5">B</text>
<text x="294.6" y="140.8" font-size="9.9" font-weight="bold" fill="#303030" text-anchor="start" textLength="159.2" lengthAdjust="spacingAndGlyphs">Sham Contra- vs. Ipsilateral Stimulation</text>
<path d="M281.1 264.5V274.4 M282.0 257.6V271.9 M282.8 258.5V272.6 M283.4 262.3V277.7 M284.1 266.2V271.3 M284.7 267.0V271.9 M285.3 265.7V272.9 M285.9 268.6V274.8 M286.5 267.2V280.4 M287.1 270.2V278.8 M287.7 263.8V280.2 M288.3 269.5V274.9 M289.0 267.4V273.6 M289.6 261.3V278.7 M290.2 262.3V277.0 M290.8 257.3V271.5 M291.5 261.8V268.0 M292.1 255.8V268.7 M292.8 255.8V266.6 M293.4 250.4V257.0 M294.1 244.7V261.5 M295.0 249.5V264.0 M295.8 255.8V265.0 M296.7 264.1V274.8 M297.5 265.7V274.2 M298.2 267.1V275.6 M298.8 261.4V277.9 M299.5 262.1V272.4 M300.1 258.5V267.7 M300.8 254.7V268.6 M301.4 253.2V271.8 M302.1 252.1V263.3 M302.8 253.0V263.4 M303.4 251.6V261.0 M304.1 250.9V261.2 M304.7 245.7V261.4 M305.4 243.7V261.8 M306.0 249.9V261.4 M306.7 247.0V258.0 M307.3 249.5V262.0 M308.0 256.3V262.6 M308.6 253.2V267.8 M309.3 257.5V272.1 M309.9 254.8V263.1 M310.6 252.1V264.4 M311.2 248.3V263.5 M311.9 250.7V261.0 M312.5 253.5V263.8 M313.1 259.8V270.0 M313.7 256.2V273.9 M314.3 260.3V273.8 M314.9 257.6V271.2 M315.5 256.1V272.6 M316.1 262.1V270.6 M316.8 258.2V270.9 M317.4 260.2V273.9 M318.0 261.3V272.6 M318.6 261.3V266.7 M319.4 253.9V265.7 M320.3 246.2V252.2 M321.2 217.4V234.4 M322.0 191.1V223.7 M322.8 195.8V215.8 M323.5 179.2V209.8 M324.2 171.8V200.8 M325.0 178.1V196.3 M325.7 195.9V209.6 M326.4 197.4V206.3 M327.1 204.7V225.7 M327.7 224.6V231.6 M328.4 225.0V245.6 M329.0 244.4V255.3 M329.7 251.3V259.5 M330.3 253.3V272.8 M331.0 258.4V262.8 M331.7 250.8V262.8 M332.3 252.5V259.8 M333.0 249.1V262.1 M333.6 255.9V267.7 M334.3 261.6V270.4 M334.9 257.4V266.3 M335.6 255.9V264.4 M336.2 258.6V263.3 M336.9 257.8V266.3 M337.5 257.5V265.7 M338.2 256.2V269.8 M339.0 252.4V266.8 M339.9 254.9V268.0 M340.8 253.9V264.1 M341.6 255.8V267.4 M342.3 256.7V266.6 M342.9 256.9V271.6 M343.6 262.9V270.1 M344.2 264.9V275.7 M344.8 263.2V273.9 M345.4 261.7V272.2 M346.0 265.9V270.0 M346.7 256.4V271.1 M347.3 253.8V269.6 M348.0 252.5V263.4 M348.6 250.7V264.1 M349.2 251.4V262.2 M349.8 248.9V266.0 M350.4 245.3V265.5 M351.0 255.0V263.1 M351.7 254.4V261.9 M352.3 254.4V262.4 M352.9 259.7V269.0 M353.5 255.5V269.5 M354.1 257.8V274.7 M354.7 264.7V270.7 M355.3 263.8V272.7 M355.9 260.1V273.0 M356.6 262.6V275.5 M357.2 261.0V270.7 M357.8 255.9V271.6 M358.4 260.2V266.6 M359.0 252.8V267.8 M359.6 258.4V267.4 M360.2 256.0V267.6 M360.9 258.4V266.7 M361.5 258.9V268.0 M362.2 252.7V263.3 M362.8 253.2V264.7 M363.5 243.8V255.2 M364.1 240.1V253.1 M364.8 242.9V253.5 M365.4 238.9V247.1 M366.1 235.0V247.0 M366.8 235.0V252.3 M367.4 241.5V249.0 M368.1 236.8V248.3 M368.7 231.7V243.1 M369.4 227.0V238.5 M370.0 228.4V239.8 M370.7 199.9V226.8 M371.5 202.2V216.6 M372.2 198.4V214.0 M372.9 190.4V206.8 M373.6 195.4V201.0 M374.2 186.2V207.1 M374.9 187.6V203.1 M375.6 200.1V213.0 M376.2 207.4V218.7 M376.9 207.2V227.7 M377.5 228.5V234.4 M378.2 234.0V242.0 M378.8 239.7V255.3 M379.5 245.4V253.4 M380.1 243.7V262.5 M380.8 251.6V264.9 M381.4 256.2V266.6 M382.1 256.0V264.8 M382.7 259.1V270.1 M383.4 259.9V275.5 M384.0 261.1V271.8 M384.7 259.4V272.0 M385.3 263.5V271.9 M386.0 254.7V270.4 M386.7 253.3V268.8 M387.3 253.9V270.2 M388.0 251.3V265.9 M388.6 252.4V266.4 M389.3 250.3V259.0 M390.1 246.1V253.3 M390.7 253.8V264.6 M391.4 256.8V271.7 M392.0 267.7V276.6 M392.8 270.9V277.4 M393.5 273.8V285.0 M394.2 265.7V278.1 M394.8 270.8V277.8 M395.5 262.7V274.7 M396.1 260.9V276.2 M396.7 264.2V276.3 M397.3 262.2V266.8 M397.9 258.0V265.8 M398.6 253.5V264.7 M399.2 250.6V266.3 M399.9 242.2V257.5 M400.5 242.0V260.8 M401.1 244.8V261.0 M401.7 239.2V254.8 M402.3 240.0V251.5 M402.9 245.2V255.6 M403.6 243.0V252.9 M404.2 240.5V257.0 M404.8 250.9V263.9 M405.4 246.9V257.2 M406.1 245.9V255.3 M406.7 250.7V264.0 M407.4 251.4V260.2 M408.0 251.7V262.5 M408.7 257.9V263.8 M409.3 257.0V268.0 M409.9 248.0V261.5 M410.5 253.8V265.8 M411.1 249.3V262.3 M411.8 249.4V255.5 M412.4 248.0V254.2 M413.0 240.6V253.0 M413.6 247.1V251.8 M414.2 246.4V255.7 M414.9 248.4V262.5 M415.6 247.4V257.6 M416.2 252.2V259.8 M416.8 253.0V262.9 M417.4 254.3V266.6 M418.0 262.3V272.2 M418.7 246.0V258.4 M419.3 227.3V246.2 M420.0 219.4V238.0 M420.6 211.5V227.2 M421.3 187.4V216.3 M421.9 185.7V202.3 M422.7 191.9V210.5 M423.4 194.8V200.7 M424.1 193.4V203.4 M424.9 185.6V211.2 M425.5 202.8V220.9 M426.2 201.9V221.5 M426.8 209.1V232.1 M427.5 213.2V236.0 M428.1 221.6V242.6 M428.8 233.2V242.3 M429.4 228.8V244.1 M430.1 235.2V249.2 M430.7 238.7V252.9 M431.4 242.3V255.2 M432.0 250.2V260.0 M432.7 250.4V258.6 M433.3 241.2V260.9 M434.0 244.4V254.5 M434.7 237.0V254.0 M435.3 247.0V252.3 M436.0 237.3V251.4 M436.6 243.6V255.8 M437.3 243.5V262.1 M437.9 247.4V259.3 M438.6 250.1V266.8 M439.2 252.6V260.7 M439.8 250.0V265.9 M440.4 254.9V262.7 M441.0 254.4V269.8 M441.6 252.9V267.1 M442.2 248.4V259.4 M442.9 241.7V263.5 M443.5 246.5V260.3 M444.2 235.9V251.2 M444.9 241.3V255.6 M445.7 233.1V246.6 M446.4 240.2V250.2 M447.0 237.3V254.3 M447.6 240.2V255.6 M448.2 243.8V252.8 M448.9 243.1V254.7 M449.5 247.3V257.6 M450.1 248.0V261.5 M450.7 240.9V258.3 M451.3 243.8V255.4 M451.9 247.5V252.7 M452.5 239.0V254.6 M453.1 235.6V250.7 M453.8 243.3V249.7 M454.4 234.9V258.8 M455.1 238.5V251.6 M455.7 244.7V255.9 M456.3 245.6V252.2 M456.9 240.4V253.0 M457.6 242.5V257.1 M458.2 243.2V256.7 M458.8 239.7V253.9 M459.4 235.3V249.8 M460.0 244.6V252.2 M460.6 241.0V254.6 M461.2 244.2V248.7 M461.8 240.0V253.4 M462.4 236.6V246.5 M463.1 238.0V249.7 M463.7 241.9V246.3 M464.3 242.6V255.6 M464.9 241.7V256.7 M465.5 237.6V254.6 M466.2 241.9V249.9" stroke="#7878ff" stroke-opacity="0.22" stroke-width="1" fill="none"/>
<path d="M281.1 260.5V277.3 M282.0 258.6V275.2 M282.8 261.8V270.2 M283.5 258.4V266.5 M284.1 253.3V265.7 M284.8 250.7V264.8 M285.4 254.4V268.0 M286.1 251.7V261.9 M286.8 251.7V261.8 M287.6 256.6V263.0 M288.5 255.7V264.8 M289.1 257.0V265.6 M289.7 253.3V263.9 M290.3 250.3V263.7 M290.9 244.1V264.8 M291.5 245.9V259.7 M292.1 244.1V255.7 M292.8 240.0V252.5 M293.4 236.1V253.9 M294.0 239.7V257.0 M294.6 247.8V255.2 M295.2 246.1V253.7 M295.8 243.1V256.9 M296.4 245.4V255.4 M297.0 243.6V259.2 M297.7 246.3V263.7 M298.3 254.5V264.7 M298.9 248.4V264.7 M299.5 246.9V259.2 M300.1 248.3V265.4 M300.7 251.0V258.9 M301.3 247.6V259.4 M301.9 242.8V256.6 M302.6 242.9V260.1 M303.2 247.5V255.5 M303.8 246.1V258.2 M304.4 240.3V251.3 M305.0 236.1V250.1 M305.6 240.9V255.9 M306.2 237.6V255.4 M306.8 244.8V250.9 M307.4 237.4V258.6 M308.1 243.5V252.2 M308.7 241.1V253.7 M309.3 242.1V257.3 M309.9 238.1V251.8 M310.5 245.8V254.6 M311.1 248.5V259.0 M311.7 248.7V260.7 M312.3 248.9V260.6 M313.0 247.4V259.3 M313.6 250.7V265.1 M314.2 248.2V262.4 M314.8 252.9V269.7 M315.4 258.5V269.4 M316.0 260.4V265.8 M316.6 259.7V267.0 M317.2 253.7V266.1 M317.9 262.2V271.2 M318.5 251.7V263.8 M319.2 243.8V253.7 M319.8 232.2V253.7 M320.7 202.8V225.7 M321.5 180.4V213.0 M322.4 190.0V203.1 M323.2 174.8V192.9 M324.0 181.5V201.4 M324.7 187.3V201.8 M325.3 185.9V202.4 M325.9 177.9V190.8 M326.6 183.0V199.1 M327.2 189.5V214.0 M328.0 211.7V218.4 M328.9 214.5V240.3 M329.6 236.6V248.7 M330.3 253.7V268.1 M331.1 249.2V265.6 M331.8 250.5V263.2 M332.5 241.3V257.0 M333.1 248.9V257.1 M333.8 246.1V253.0 M334.4 243.1V252.9 M335.1 247.3V258.7 M335.7 241.6V251.6 M336.4 249.4V259.4 M337.0 249.2V257.5 M337.7 250.6V260.7 M338.3 249.6V261.8 M339.0 246.6V262.1 M339.7 250.4V264.1 M340.3 248.1V261.4 M341.0 246.5V258.7 M341.6 238.7V257.5 M342.2 247.7V261.3 M342.8 247.5V257.2 M343.4 247.5V263.7 M344.1 251.3V265.2 M344.7 250.6V261.9 M345.3 254.9V262.6 M345.9 259.1V269.2 M346.5 260.0V272.4 M347.2 251.5V263.1 M347.8 249.6V266.7 M348.5 247.4V258.8 M349.1 251.7V262.6 M349.7 247.1V256.8 M350.3 249.2V257.1 M350.9 248.4V258.0 M351.5 250.5V257.8 M352.1 245.1V256.8 M352.8 248.7V258.7 M353.4 248.5V264.6 M354.0 252.9V264.3 M354.6 248.6V256.5 M355.2 245.2V262.2 M355.8 242.5V259.3 M356.4 246.7V256.5 M357.0 246.1V258.2 M357.7 241.5V258.3 M358.3 243.4V249.8 M358.9 240.5V251.8 M359.5 240.6V258.8 M360.1 246.0V258.9 M360.7 247.5V257.9 M361.3 240.1V256.5 M361.9 245.8V252.2 M362.6 245.6V259.6 M363.2 242.4V251.3 M363.8 232.3V248.0 M364.5 239.2V248.7 M365.1 231.6V249.5 M366.0 230.2V248.5 M366.8 243.9V256.6 M367.7 243.0V256.1 M368.6 246.4V263.8 M369.3 236.1V244.4 M370.0 206.8V229.7 M370.7 199.9V221.3 M371.3 203.3V212.9 M372.0 202.3V212.4 M372.6 192.3V206.8 M373.3 197.3V206.9 M373.9 179.8V204.0 M374.6 182.1V220.1 M375.2 205.9V211.4 M375.9 208.0V216.9 M376.5 214.4V224.4 M377.2 208.1V233.7 M377.8 230.0V238.4 M378.5 233.2V254.6 M379.1 247.6V256.4 M379.8 261.0V266.1 M380.4 256.6V268.7 M381.1 249.3V263.3 M381.8 250.9V265.3 M382.4 256.0V268.6 M383.1 255.9V264.8 M383.7 258.1V273.3 M384.4 257.4V265.8 M385.0 258.7V270.6 M385.7 254.9V268.0 M386.3 256.2V268.7 M387.0 257.9V264.4 M387.6 258.7V266.5 M388.3 262.1V272.7 M388.9 258.1V271.2 M389.6 265.6V275.7 M390.2 263.8V269.3 M390.9 261.8V269.8 M391.6 257.7V264.0 M392.2 251.6V261.7 M392.9 248.7V261.3 M393.5 251.0V259.8 M394.2 248.5V266.6 M394.8 247.1V264.6 M395.5 255.8V263.9 M396.1 254.9V262.5 M396.7 250.2V261.6 M397.3 245.4V260.3 M397.9 247.0V254.9 M398.5 242.6V259.3 M399.1 240.9V254.5 M399.8 244.8V250.6 M400.4 243.0V254.3 M401.0 243.4V258.2 M401.7 246.9V251.6 M402.3 240.2V256.7 M402.9 242.2V255.2 M403.6 252.7V265.0 M404.2 255.0V262.2 M404.8 255.0V267.4 M405.4 251.3V261.9 M406.1 249.5V257.4 M406.7 241.2V257.7 M407.5 241.9V254.1 M408.2 238.8V250.0 M408.9 245.9V254.1 M409.5 253.2V264.9 M410.2 256.6V268.3 M410.8 248.9V265.7 M411.5 246.7V264.2 M412.1 252.2V265.5 M412.8 246.8V263.3 M413.4 243.7V251.2 M414.1 237.1V249.5 M414.7 230.9V246.0 M415.4 230.0V249.2 M416.0 229.8V246.9 M416.7 239.4V248.1 M417.3 248.9V259.8 M418.0 247.6V262.1 M418.7 245.6V256.0 M419.3 232.8V242.3 M420.0 224.5V240.2 M420.6 200.5V223.0 M421.3 197.2V209.3 M421.9 170.3V201.9 M422.7 181.3V200.9 M423.4 188.7V195.3 M424.0 174.5V198.6 M424.7 192.2V203.0 M425.3 196.9V210.1 M426.0 187.9V219.6 M426.7 209.8V222.8 M427.3 220.6V232.8 M428.0 233.2V241.3 M428.6 236.9V253.9 M429.3 250.8V260.2 M429.9 253.2V269.6 M430.6 264.9V276.8 M431.2 266.0V276.9 M431.9 262.9V274.2 M432.5 266.2V279.0 M433.2 266.3V273.3 M433.8 261.5V270.2 M434.5 261.0V269.0 M435.1 255.0V266.3 M435.8 254.8V268.8 M436.4 249.9V263.2 M437.1 248.1V265.8 M437.8 260.1V268.5 M438.4 263.1V275.9 M439.1 272.9V287.0 M439.7 271.3V283.6 M440.4 263.1V276.3 M441.0 261.9V270.8 M441.7 264.4V276.6 M442.3 261.8V276.1 M443.0 256.5V270.0 M443.6 257.6V271.5 M444.3 263.4V278.6 M444.9 264.7V272.6 M445.6 266.9V273.1 M446.2 267.7V272.3 M446.8 262.9V279.4 M447.4 266.3V277.3 M448.0 258.9V272.1 M448.6 261.9V270.9 M449.2 263.4V270.6 M449.8 257.6V270.5 M450.4 255.2V273.0 M451.1 255.4V266.9 M451.7 256.4V262.3 M452.3 253.5V267.4 M452.9 246.9V260.8 M453.6 244.8V260.8 M454.2 249.6V260.5 M454.9 250.7V264.0 M455.6 253.9V266.2 M456.2 250.8V262.7 M456.9 248.5V261.2 M457.5 247.1V259.0 M458.2 238.9V252.4 M458.9 242.4V254.3 M459.6 247.7V257.3 M460.3 243.6V259.9 M460.9 236.3V249.7 M461.6 237.2V244.7 M462.2 245.0V250.4 M462.9 245.9V261.9 M463.6 256.0V269.2 M464.2 245.6V260.3 M464.9 236.8V254.2 M465.5 238.8V247.8 M466.2 224.1V248.0" stroke="#ff7878" stroke-opacity="0.22" stroke-width="1" fill="none"/>
<polyline points="281.1,266.7 282.8,268.0 285.3,270.4 287.7,272.9 290.2,270.4 292.1,260.6 294.1,252.0 295.8,260.6 297.5,271.6 299.5,266.7 301.4,263.1 303.4,255.7 305.4,253.3 307.3,256.9 309.3,263.1 311.2,256.9 313.7,264.3 316.1,264.3 318.6,264.3 320.3,248.4 322.0,211.6 323.5,199.4 325.0,192.0 326.4,204.3 328.4,238.6 330.3,263.1 332.3,255.7 334.3,265.5 336.2,260.6 338.2,264.3 339.9,258.2 341.6,261.8 343.6,268.0 346.0,268.0 348.0,259.4 350.4,255.7 352.9,261.8 355.3,269.2 357.8,263.1 360.2,261.8 362.2,260.6 364.1,248.4 366.1,238.6 368.1,245.9 370.0,231.2 371.5,205.5 372.9,196.9 374.9,199.4 376.9,223.9 378.8,245.9 380.8,256.9 382.7,265.5 384.7,268.0 386.7,261.8 388.6,260.6 390.1,249.6 392.0,270.4 393.5,276.5 395.5,271.6 397.9,261.8 399.9,253.3 402.3,248.4 404.8,253.3 406.7,253.3 408.7,260.6 411.1,254.5 413.6,249.6 415.6,253.3 418.0,265.5 420.0,226.3 421.9,195.7 423.4,196.9 424.9,199.4 426.8,219.0 428.8,238.6 430.7,248.4 432.7,254.5 434.7,249.6 436.6,248.4 438.6,256.9 441.0,261.8 443.5,250.8 446.4,242.2 448.9,249.6 451.3,252.0 453.8,245.9 455.7,250.8 458.2,248.4 460.6,247.1 463.1,243.5 465.5,245.9 467.0,243.5" fill="none" stroke="#9090ff" stroke-opacity="0.13" stroke-width="11" stroke-linejoin="round"/>
<polyline points="281.1,268.0 282.8,264.3 284.8,260.6 286.8,259.4 288.5,261.8 290.9,254.5 293.4,248.4 295.8,252.0 298.3,256.9 300.7,254.5 303.2,249.6 305.6,245.9 308.1,248.4 310.5,249.6 313.0,254.5 315.4,261.8 317.9,264.3 319.8,243.5 321.5,199.4 323.2,187.1 324.7,192.0 325.9,188.4 327.2,199.4 328.9,231.2 330.3,258.2 331.8,254.5 333.8,249.6 335.7,249.6 337.7,258.2 339.7,255.7 341.6,250.8 344.1,255.7 346.5,263.1 348.5,255.7 350.9,250.8 353.4,258.2 355.8,250.8 358.3,245.9 360.7,249.6 363.2,248.4 365.1,239.8 366.8,245.9 368.6,255.7 370.0,221.4 372.0,204.3 373.9,201.8 375.9,211.6 377.8,233.7 379.8,263.1 381.8,255.7 383.7,264.3 385.7,260.6 387.6,263.1 389.6,270.4 391.6,260.6 393.5,254.5 395.5,259.4 397.9,252.0 400.4,245.9 402.3,250.8 404.8,259.4 406.7,250.8 408.2,247.1 410.2,259.4 412.1,255.7 414.1,245.9 416.0,238.6 418.0,258.2 420.0,231.2 421.9,194.5 423.4,193.3 425.3,201.8 427.3,223.9 429.3,258.2 431.2,272.9 433.2,270.4 435.1,259.4 437.1,258.2 439.1,277.8 441.0,268.0 443.0,265.5 444.9,270.4 447.4,269.2 449.8,265.5 452.3,258.2 454.2,253.3 456.2,258.2 458.2,249.6 459.6,253.3 461.6,242.2 463.6,260.6 465.5,241.0 467.0,237.3" fill="none" stroke="#ff9090" stroke-opacity="0.13" stroke-width="11" stroke-linejoin="round"/>
<polyline points="281.1,266.7 282.8,268.0 285.3,270.4 287.7,272.9 290.2,270.4 292.1,260.6 294.1,252.0 295.8,260.6 297.5,271.6 299.5,266.7 301.4,263.1 303.4,255.7 305.4,253.3 307.3,256.9 309.3,263.1 311.2,256.9 313.7,264.3 316.1,264.3 318.6,264.3 320.3,248.4 322.0,211.6 323.5,199.4 325.0,192.0 326.4,204.3 328.4,238.6 330.3,263.1 332.3,255.7 334.3,265.5 336.2,260.6 338.2,264.3 339.9,258.2 341.6,261.8 343.6,268.0 346.0,268.0 348.0,259.4 350.4,255.7 352.9,261.8 355.3,269.2 357.8,263.1 360.2,261.8 362.2,260.6 364.1,248.4 366.1,238.6 368.1,245.9 370.0,231.2 371.5,205.5 372.9,196.9 374.9,199.4 376.9,223.9 378.8,245.9 380.8,256.9 382.7,265.5 384.7,268.0 386.7,261.8 388.6,260.6 390.1,249.6 392.0,270.4 393.5,276.5 395.5,271.6 397.9,261.8 399.9,253.3 402.3,248.4 404.8,253.3 406.7,253.3 408.7,260.6 411.1,254.5 413.6,249.6 415.6,253.3 418.0,265.5 420.0,226.3 421.9,195.7 423.4,196.9 424.9,199.4 426.8,219.0 428.8,238.6 430.7,248.4 432.7,254.5 434.7,249.6 436.6,248.4 438.6,256.9 441.0,261.8 443.5,250.8 446.4,242.2 448.9,249.6 451.3,252.0 453.8,245.9 455.7,250.8 458.2,248.4 460.6,247.1 463.1,243.5 465.5,245.9 467.0,243.5" fill="none" stroke="#2c2cdc" stroke-width="1.3" stroke-linejoin="round"/>
<polyline points="281.1,268.0 282.8,264.3 284.8,260.6 286.8,259.4 288.5,261.8 290.9,254.5 293.4,248.4 295.8,252.0 298.3,256.9 300.7,254.5 303.2,249.6 305.6,245.9 308.1,248.4 310.5,249.6 313.0,254.5 315.4,261.8 317.9,264.3 319.8,243.5 321.5,199.4 323.2,187.1 324.7,192.0 325.9,188.4 327.2,199.4 328.9,231.2 330.3,258.2 331.8,254.5 333.8,249.6 335.7,249.6 337.7,258.2 339.7,255.7 341.6,250.8 344.1,255.7 346.5,263.1 348.5,255.7 350.9,250.8 353.4,258.2 355.8,250.8 358.3,245.9 360.7,249.6 363.2,248.4 365.1,239.8 366.8,245.9 368.6,255.7 370.0,221.4 372.0,204.3 373.9,201.8 375.9,211.6 377.8,233.7 379.8,263.1 381.8,255.7 383.7,264.3 385.7,260.6 387.6,263.1 389.6,270.4 391.6,260.6 393.5,254.5 395.5,259.4 397.9,252.0 400.4,245.9 402.3,250.8 404.8,259.4 406.7,250.8 408.2,247.1 410.2,259.4 412.1,255.7 414.1,245.9 416.0,238.6 418.0,258.2 420.0,231.2 421.9,194.5 423.4,193.3 425.3,201.8 427.3,223.9 429.3,258.2 431.2,272.9 433.2,270.4 435.1,259.4 437.1,258.2 439.1,277.8 441.0,268.0 443.0,265.5 444.9,270.4 447.4,269.2 449.8,265.5 452.3,258.2 454.2,253.3 456.2,258.2 458.2,249.6 459.6,253.3 461.6,242.2 463.6,260.6 465.5,241.0 467.0,237.3" fill="none" stroke="#e0282e" stroke-width="1.3" stroke-linejoin="round"/>
<rect x="264.0" y="144.6" width="44" height="26.700000000000017" fill="#fff"/>
<text x="278.5" y="150.5" font-size="5.2" font-weight="normal" fill="#333" text-anchor="start" textLength="22.4" lengthAdjust="spacingAndGlyphs">Data group</text>
<line x1="269.6" y1="156.0" x2="272.90000000000003" y2="156.0" stroke="#2b2bff" stroke-width="1.2"/>
<text x="278.5" y="158.3" font-size="5.2" font-weight="normal" fill="#333" text-anchor="start" textLength="19.2" lengthAdjust="spacingAndGlyphs">Sham Ipsi</text>
<line x1="269.6" y1="163.9" x2="272.90000000000003" y2="163.9" stroke="#ff2b2b" stroke-width="1.2"/>
<text x="278.5" y="166.2" font-size="5.2" font-weight="normal" fill="#333" text-anchor="start" textLength="26.4" lengthAdjust="spacingAndGlyphs">Sham Contra</text>
<path d="M24.5 327.6V474.3 M36.9 327.6V474.3 M49.3 327.6V474.3 M61.7 327.6V474.3 M74.0 327.6V474.3 M86.4 327.6V474.3 M98.8 327.6V474.3 M111.2 327.6V474.3 M123.6 327.6V474.3 M135.9 327.6V474.3 M148.3 327.6V474.3 M160.7 327.6V474.3 M173.1 327.6V474.3 M185.5 327.6V474.3 M197.8 327.6V474.3 M210.2 327.6V474.3 M222.6 327.6V474.3 M235.0 327.6V474.3 M18.4 457.9H235.0 M18.4 443.1H235.0 M18.4 428.3H235.0 M18.4 413.4H235.0 M18.4 398.6H235.0 M18.4 383.7H235.0 M18.4 368.9H235.0 M18.4 354.1H235.0 M18.4 339.2H235.0" stroke="#ebebeb" stroke-width="0.8" fill="none"/>
<path d="M16.4 472.8H18.4 M16.4 457.9H18.4 M16.4 443.1H18.4 M16.4 428.3H18.4 M16.4 413.4H18.4 M16.4 398.6H18.4 M16.4 383.7H18.4 M16.4 368.9H18.4 M16.4 354.1H18.4 M16.4 339.2H18.4 M16.4 324.4H18.4" stroke="#999" stroke-width="0.6"/>
<line x1="18.4" y1="327.6" x2="18.4" y2="472.78000000000003" stroke="#cfcfcf" stroke-width="1.2"/>
<line x1="18.4" y1="472.78000000000003" x2="235.48" y2="472.78000000000003" stroke="#8a8a8a" stroke-width="0.9"/>
<text x="15.4" y="474.4" font-size="4.8" font-weight="normal" fill="#333" text-anchor="end" textLength="3.8" lengthAdjust="spacingAndGlyphs" stroke="#333" stroke-width="0.12">-4</text>
<text x="15.4" y="459.5" font-size="4.8" font-weight="normal" fill="#333" text-anchor="end" textLength="3.8" lengthAdjust="spacingAndGlyphs" stroke="#333" stroke-width="0.12">-2</text>
<text x="15.4" y="444.7" font-size="4.8" font-weight="normal" fill="#333" text-anchor="end" textLength="1.9" lengthAdjust="spacingAndGlyphs" stroke="#333" stroke-width="0.12">0</text>
<text x="15.4" y="429.9" font-size="4.8" font-weight="normal" fill="#333" text-anchor="end" textLength="1.9" lengthAdjust="spacingAndGlyphs" stroke="#333" stroke-width="0.12">2</text>
<text x="15.4" y="415.0" font-size="4.8" font-weight="normal" fill="#333" text-anchor="end" textLength="1.9" lengthAdjust="spacingAndGlyphs" stroke="#333" stroke-width="0.12">4</text>
<text x="15.4" y="400.2" font-size="4.8" font-weight="normal" fill="#333" text-anchor="end" textLength="1.9" lengthAdjust="spacingAndGlyphs" stroke="#333" stroke-width="0.12">6</text>
<text x="15.4" y="385.3" font-size="4.8" font-weight="normal" fill="#333" text-anchor="end" textLength="1.9" lengthAdjust="spacingAndGlyphs" stroke="#333" stroke-width="0.12">8</text>
<text x="15.4" y="370.5" font-size="4.8" font-weight="normal" fill="#333" text-anchor="end" textLength="3.8" lengthAdjust="spacingAndGlyphs" stroke="#333" stroke-width="0.12">10</text>
<text x="15.4" y="355.7" font-size="4.8" font-weight="normal" fill="#333" text-anchor="end" textLength="3.8" lengthAdjust="spacingAndGlyphs" stroke="#333" stroke-width="0.12">12</text>
<text x="15.4" y="340.8" font-size="4.8" font-weight="normal" fill="#333" text-anchor="end" textLength="3.8" lengthAdjust="spacingAndGlyphs" stroke="#333" stroke-width="0.12">14</text>
<text x="15.4" y="326.0" font-size="4.8" font-weight="normal" fill="#333" text-anchor="end" textLength="3.8" lengthAdjust="spacingAndGlyphs" stroke="#333" stroke-width="0.12">16</text>
<text x="24.5" y="479.7" font-size="4.8" font-weight="normal" fill="#333" text-anchor="middle" textLength="3.8" lengthAdjust="spacingAndGlyphs" stroke="#333" stroke-width="0.12">60</text>
<text x="36.9" y="479.7" font-size="4.8" font-weight="normal" fill="#333" text-anchor="middle" textLength="3.8" lengthAdjust="spacingAndGlyphs" stroke="#333" stroke-width="0.12">80</text>
<text x="49.3" y="479.7" font-size="4.8" font-weight="normal" fill="#333" text-anchor="middle" textLength="5.7" lengthAdjust="spacingAndGlyphs" stroke="#333" stroke-width="0.12">100</text>
<text x="61.7" y="479.7" font-size="4.8" font-weight="normal" fill="#333" text-anchor="middle" textLength="5.7" lengthAdjust="spacingAndGlyphs" stroke="#333" stroke-width="0.12">120</text>
<text x="74.0" y="479.7" font-size="4.8" font-weight="normal" fill="#333" text-anchor="middle" textLength="5.7" lengthAdjust="spacingAndGlyphs" stroke="#333" stroke-width="0.12">140</text>
<text x="86.4" y="479.7" font-size="4.8" font-weight="normal" fill="#333" text-anchor="middle" textLength="5.7" lengthAdjust="spacingAndGlyphs" stroke="#333" stroke-width="0.12">160</text>
<text x="98.8" y="479.7" font-size="4.8" font-weight="normal" fill="#333" text-anchor="middle" textLength="5.7" lengthAdjust="spacingAndGlyphs" stroke="#333" stroke-width="0.12">180</text>
<text x="111.2" y="479.7" font-size="4.8" font-weight="normal" fill="#333" text-anchor="middle" textLength="5.7" lengthAdjust="spacingAndGlyphs" stroke="#333" stroke-width="0.12">200</text>
<text x="123.6" y="479.7" font-size="4.8" font-weight="normal" fill="#333" text-anchor="middle" textLength="5.7" lengthAdjust="spacingAndGlyphs" stroke="#333" stroke-width="0.12">220</text>
<text x="135.9" y="479.7" font-size="4.8" font-weight="normal" fill="#333" text-anchor="middle" textLength="5.7" lengthAdjust="spacingAndGlyphs" stroke="#333" stroke-width="0.12">240</text>
<text x="148.3" y="479.7" font-size="4.8" font-weight="normal" fill="#333" text-anchor="middle" textLength="5.7" lengthAdjust="spacingAndGlyphs" stroke="#333" stroke-width="0.12">260</text>
<text x="160.7" y="479.7" font-size="4.8" font-weight="normal" fill="#333" text-anchor="middle" textLength="5.7" lengthAdjust="spacingAndGlyphs" stroke="#333" stroke-width="0.12">280</text>
<text x="173.1" y="479.7" font-size="4.8" font-weight="normal" fill="#333" text-anchor="middle" textLength="5.7" lengthAdjust="spacingAndGlyphs" stroke="#333" stroke-width="0.12">300</text>
<text x="185.5" y="479.7" font-size="4.8" font-weight="normal" fill="#333" text-anchor="middle" textLength="5.7" lengthAdjust="spacingAndGlyphs" stroke="#333" stroke-width="0.12">320</text>
<text x="197.8" y="479.7" font-size="4.8" font-weight="normal" fill="#333" text-anchor="middle" textLength="5.7" lengthAdjust="spacingAndGlyphs" stroke="#333" stroke-width="0.12">340</text>
<text x="210.2" y="479.7" font-size="4.8" font-weight="normal" fill="#333" text-anchor="middle" textLength="5.7" lengthAdjust="spacingAndGlyphs" stroke="#333" stroke-width="0.12">360</text>
<text x="222.6" y="479.7" font-size="4.8" font-weight="normal" fill="#333" text-anchor="middle" textLength="5.7" lengthAdjust="spacingAndGlyphs" stroke="#333" stroke-width="0.12">380</text>
<text x="235.0" y="479.7" font-size="4.8" font-weight="normal" fill="#333" text-anchor="middle" textLength="5.7" lengthAdjust="spacingAndGlyphs" stroke="#333" stroke-width="0.12">400</text>
<text x="126.7" y="485.4" font-size="5.4" font-weight="bold" fill="#222" text-anchor="middle" textLength="13.2" lengthAdjust="spacingAndGlyphs" stroke="#222" stroke-width="0.2">Time, s</text>
<text x="7.300000000000001" y="391" font-size="4.6" font-weight="bold" fill="#333" text-anchor="middle" transform="rotate(-90 7.300000000000001 391)" textLength="57.5" lengthAdjust="spacingAndGlyphs">rCBV % Change (filtered)</text>
<text x="23.0" y="319.2" font-size="21" font-weight="bold" fill="#000" stroke="#000" stroke-width="0.5">C</text>
<text x="57.8" y="320.1" font-size="9.9" font-weight="bold" fill="#303030" text-anchor="start" textLength="157.5" lengthAdjust="spacingAndGlyphs">Sham vs. SNI Contralateral Stimulation</text>
<path d="M36.1 440.1V456.9 M37.0 441.9V458.4 M37.8 448.7V457.1 M38.5 444.5V452.6 M39.1 438.5V451.0 M39.8 435.3V449.2 M40.4 438.5V452.0 M41.1 435.6V445.6 M41.8 435.2V445.0 M42.4 437.7V444.2 M43.1 434.5V444.0 M43.7 437.1V445.8 M44.4 436.2V446.6 M45.0 436.2V448.9 M45.7 433.6V452.3 M46.3 433.3V446.3 M47.0 430.1V441.1 M47.6 424.6V436.6 M48.3 421.1V438.2 M48.9 422.2V439.2 M49.6 428.0V435.4 M50.2 427.4V435.0 M50.9 425.6V439.3 M51.6 428.9V438.6 M52.2 428.7V443.6 M52.9 432.7V449.1 M53.5 441.5V451.3 M54.2 435.9V451.1 M54.8 434.2V445.6 M55.5 435.1V451.2 M56.1 436.4V444.1 M56.8 432.8V444.1 M57.4 427.8V440.9 M58.1 426.8V443.6 M58.7 430.3V438.3 M59.4 427.8V439.9 M60.0 422.1V433.1 M60.7 418.1V432.0 M61.3 422.9V437.8 M62.0 420.3V437.9 M62.7 428.0V434.1 M63.3 421.6V442.2 M64.0 427.3V435.8 M64.6 425.1V437.4 M65.3 426.1V441.0 M65.9 424.5V437.3 M66.6 433.3V441.7 M67.2 436.6V446.7 M67.9 434.1V445.7 M68.5 431.3V443.0 M69.2 426.7V438.9 M69.8 431.1V445.7 M70.5 429.8V444.0 M71.1 435.6V452.2 M71.8 440.1V451.0 M72.4 442.2V447.6 M73.1 441.7V449.0 M73.8 425.5V439.4 M74.4 426.6V436.4 M75.1 413.2V427.9 M75.8 393.8V407.1 M76.5 367.9V399.6 M77.3 353.3V382.5 M78.0 348.0V383.7 M78.7 366.3V379.6 M79.3 357.7V375.7 M80.0 362.2V382.2 M80.7 367.4V382.0 M81.4 369.8V386.1 M82.2 371.9V383.8 M82.9 379.0V393.7 M83.6 399.4V419.5 M84.4 422.4V428.3 M85.1 423.0V442.4 M85.8 437.8V447.5 M86.5 435.7V450.0 M87.1 429.2V445.9 M87.8 428.7V441.8 M88.4 419.9V436.2 M89.1 428.8V437.2 M89.8 426.9V433.8 M90.4 426.0V435.7 M91.1 432.2V443.3 M91.7 429.2V438.5 M92.4 435.2V444.9 M93.0 433.9V441.9 M93.7 434.0V443.9 M94.3 433.3V445.2 M94.9 430.6V445.7 M95.5 434.5V447.8 M96.1 433.3V446.1 M96.7 433.8V445.3 M97.3 429.1V445.9 M98.0 435.9V448.6 M98.6 434.8V444.0 M99.2 435.1V450.1 M99.8 438.5V451.6 M100.4 437.4V448.1 M101.0 440.7V448.2 M101.7 444.2V454.2 M102.3 444.5V456.9 M103.0 439.8V451.2 M103.6 438.8V455.0 M104.3 437.3V447.7 M104.9 440.0V450.3 M105.6 434.9V444.0 M106.2 435.8V443.5 M106.9 434.1V443.5 M107.6 436.8V444.0 M108.2 432.9V443.7 M108.9 436.9V446.2 M109.5 434.5V449.7 M110.2 439.8V450.6 M110.8 437.3V444.6 M111.4 433.1V448.9 M112.0 429.5V445.2 M112.7 431.6V441.1 M113.3 429.3V441.3 M113.9 424.8V441.4 M114.6 426.6V432.9 M115.2 421.6V432.9 M115.9 422.4V440.6 M116.5 428.5V441.3 M117.2 430.7V441.0 M117.8 420.6V437.2 M118.5 423.8V430.4 M119.1 421.0V435.7 M119.8 416.9V426.5 M120.4 408.4V425.1 M121.1 418.3V427.9 M121.8 418.7V435.6 M122.4 419.4V436.2 M123.1 433.3V445.2 M123.7 425.0V438.1 M124.4 419.8V438.9 M125.0 425.5V433.4 M125.7 401.8V422.1 M126.5 385.8V406.4 M127.2 385.1V394.7 M127.9 380.6V390.9 M128.6 371.6V386.3 M129.2 378.1V387.7 M129.9 361.8V386.0 M130.6 365.2V402.8 M131.2 389.5V395.0 M131.9 392.5V401.3 M132.5 401.5V411.1 M133.2 399.3V422.7 M133.8 422.1V429.9 M134.5 423.8V443.3 M135.1 434.9V443.2 M135.8 445.4V450.6 M136.4 442.7V454.7 M137.1 437.6V450.9 M137.7 440.7V454.1 M138.4 441.3V453.6 M139.0 437.0V446.0 M139.7 435.0V450.6 M140.3 436.9V445.4 M141.0 440.7V452.6 M141.7 439.4V452.3 M142.3 441.9V454.4 M143.0 444.8V451.3 M143.6 446.8V454.6 M144.3 445.7V456.3 M144.9 437.2V450.3 M145.6 440.2V450.4 M146.2 440.1V445.6 M146.9 439.7V447.8 M147.5 437.2V443.6 M148.2 431.8V442.0 M148.8 429.8V442.5 M149.5 433.0V441.8 M150.1 431.9V449.7 M150.8 432.2V448.9 M151.4 441.6V449.5 M152.1 441.7V449.0 M152.8 438.5V449.1 M153.4 435.3V448.7 M154.1 432.9V440.6 M154.7 425.0V441.5 M155.4 419.5V433.6 M156.0 427.8V433.5 M156.7 430.0V440.8 M157.3 431.4V445.4 M158.0 437.9V442.5 M158.6 436.5V450.5 M159.3 441.0V452.2 M159.9 444.3V456.0 M160.6 441.2V448.2 M161.2 435.7V448.2 M161.9 432.4V443.1 M162.6 431.1V439.0 M163.2 423.3V439.7 M163.9 430.0V441.4 M164.5 433.3V442.9 M165.2 439.3V446.6 M165.8 440.5V451.7 M166.5 438.6V450.2 M167.1 431.0V447.6 M167.8 428.2V445.8 M168.4 433.3V446.7 M169.1 429.7V446.0 M169.7 426.6V434.0 M170.4 420.1V432.3 M171.0 413.0V428.0 M171.7 420.1V437.7 M172.3 427.4V441.9 M173.0 434.2V441.8 M173.7 427.6V438.7 M174.3 407.0V426.1 M175.0 409.1V420.9 M175.6 395.1V406.4 M176.3 387.2V405.3 M176.9 364.7V390.5 M177.7 370.6V383.3 M178.4 350.9V382.7 M179.0 363.1V382.7 M179.7 371.5V378.1 M180.3 354.7V379.0 M181.0 374.7V385.4 M181.7 381.5V394.4 M182.3 370.0V401.5 M183.0 396.1V408.7 M183.6 410.9V422.5 M184.3 423.4V431.2 M184.9 424.7V440.5 M185.6 434.7V443.8 M186.2 440.1V456.5 M186.9 448.5V460.4 M187.5 446.4V457.3 M188.2 445.7V457.0 M188.8 447.8V460.6 M189.5 446.7V453.7 M190.1 443.5V452.2 M190.8 445.5V453.4 M191.4 442.0V453.1 M192.1 441.0V454.7 M192.8 441.0V453.7 M193.4 443.9V460.7 M194.1 452.7V461.1 M194.7 447.1V459.8 M195.3 448.2V462.3 M195.9 447.7V460.0 M196.5 440.6V453.8 M197.1 443.2V452.2 M197.7 447.2V459.5 M198.3 446.1V460.4 M199.0 442.2V455.7 M199.6 441.3V455.3 M200.2 445.2V460.4 M200.8 444.6V452.5 M201.4 446.8V452.9 M202.0 446.3V451.0 M202.6 440.3V456.8 M203.2 442.4V453.5 M203.9 434.5V447.6 M204.5 436.5V445.6 M205.1 437.0V444.4 M205.7 429.6V443.5 M206.3 426.7V446.4 M206.9 427.4V440.3 M207.5 429.5V435.7 M208.1 426.6V441.7 M208.8 419.2V434.8 M209.4 423.4V440.1 M210.1 434.2V444.8 M210.7 437.5V450.2 M211.4 441.3V453.1 M212.0 439.4V450.7 M212.7 442.7V454.4 M213.3 438.0V448.7 M214.0 426.9V439.3 M214.6 420.9V433.2 M215.3 422.2V432.5 M215.9 419.9V437.0 M216.6 414.1V428.1 M217.2 425.7V432.8 M217.9 433.3V438.6 M218.6 435.1V449.6 M219.2 431.9V445.9 M219.9 422.0V437.6 M220.5 414.0V432.3 M221.2 420.2V429.2" stroke="#7878ff" stroke-opacity="0.22" stroke-width="1" fill="none"/>
<path d="M36.1 430.0V440.1 M37.0 437.9V447.1 M37.8 440.0V453.0 M38.5 435.1V451.6 M39.1 437.6V450.5 M39.8 435.4V449.8 M40.4 436.6V446.3 M41.1 434.7V444.4 M41.8 434.3V443.6 M42.4 437.4V442.8 M43.1 437.6V448.5 M43.7 435.9V450.2 M44.4 434.8V450.4 M45.0 439.4V446.2 M45.7 434.9V443.6 M46.3 433.3V449.5 M47.0 438.8V445.1 M47.6 441.5V445.9 M48.3 441.7V448.3 M48.9 443.6V451.4 M49.6 439.5V454.6 M50.2 441.9V457.6 M50.9 443.7V451.2 M51.6 447.6V452.5 M52.2 443.9V454.9 M52.9 437.4V449.4 M53.5 439.9V451.6 M54.2 437.6V446.1 M54.8 437.2V448.5 M55.5 427.8V440.9 M56.1 434.4V443.4 M56.8 433.6V445.5 M57.4 436.7V443.1 M58.1 430.7V445.4 M58.7 437.5V447.9 M59.4 432.5V442.7 M60.0 431.7V444.6 M60.6 435.1V447.5 M61.2 428.1V447.5 M61.8 431.8V446.2 M62.4 430.0V442.1 M63.1 435.5V440.2 M63.7 432.6V440.5 M64.3 430.0V445.1 M64.9 436.2V445.6 M65.5 433.5V443.6 M66.1 437.3V449.4 M66.7 430.1V447.9 M67.4 432.0V443.6 M68.0 435.7V452.1 M68.7 436.8V451.4 M69.3 433.5V451.4 M70.0 433.4V445.1 M70.7 430.2V444.0 M71.3 433.6V440.7 M71.9 432.2V444.2 M72.5 432.0V444.3 M73.1 426.1V437.7 M73.8 428.7V440.5 M74.4 428.0V437.8 M75.1 423.7V430.5 M75.7 407.0V423.9 M76.4 396.9V420.6 M77.0 397.2V413.1 M77.7 392.5V405.1 M78.3 389.8V404.6 M79.0 386.6V410.8 M79.7 378.8V401.1 M80.4 377.2V398.8 M81.2 364.3V390.8 M81.9 367.2V387.0 M82.7 372.4V401.1 M83.4 388.4V413.7 M84.1 403.7V416.6 M84.9 418.3V428.0 M85.6 417.3V438.7 M86.3 434.6V442.0 M87.0 429.2V443.5 M87.6 434.7V441.2 M88.3 435.3V443.0 M88.9 427.3V444.8 M89.6 426.1V445.8 M90.2 430.5V442.3 M90.9 427.8V439.0 M91.6 428.3V440.3 M92.2 435.6V440.1 M92.9 435.5V447.9 M93.5 435.5V446.0 M94.2 437.5V447.0 M94.8 437.7V449.8 M95.4 435.9V450.1 M96.0 436.9V443.4 M96.6 436.4V443.0 M97.2 434.4V450.3 M97.8 435.1V442.9 M98.4 436.4V445.5 M99.1 431.8V442.6 M99.7 436.2V444.5 M100.3 436.4V441.5 M100.9 432.1V445.9 M101.5 430.6V446.1 M102.1 430.2V441.2 M102.7 427.9V447.0 M103.3 434.7V446.8 M104.0 434.3V439.0 M104.6 428.3V438.6 M105.2 431.9V445.9 M105.8 426.1V439.7 M106.4 425.4V437.7 M107.0 432.6V445.6 M107.6 425.7V438.5 M108.2 428.1V445.8 M108.9 434.1V442.7 M109.5 425.3V439.1 M110.1 433.3V443.7 M110.7 432.6V440.7 M111.3 429.2V436.3 M111.9 425.0V436.4 M112.5 430.5V435.2 M113.1 423.1V442.2 M113.8 424.0V433.6 M114.4 424.6V437.4 M115.0 430.2V437.7 M115.6 427.9V444.9 M116.2 432.7V442.7 M116.8 427.9V437.9 M117.4 424.4V441.8 M118.0 433.8V443.4 M118.7 433.1V443.7 M119.3 433.4V438.5 M119.9 433.9V441.6 M120.5 431.3V440.2 M121.1 433.0V439.8 M121.8 426.6V443.2 M122.4 425.1V440.3 M123.1 427.0V438.0 M123.7 426.2V440.0 M124.4 417.9V431.7 M125.0 421.0V428.3 M125.7 412.0V429.6 M126.3 403.7V413.7 M127.0 399.5V416.2 M127.6 399.7V412.3 M128.3 382.5V409.6 M128.9 387.7V397.2 M129.6 389.3V401.9 M130.2 378.8V401.7 M130.9 384.6V395.8 M131.5 376.6V398.9 M132.2 395.1V416.1 M132.8 403.8V420.9 M133.5 411.0V418.0 M134.1 418.3V432.6 M134.8 420.9V432.5 M135.4 423.0V439.3 M136.1 430.1V435.6 M136.8 427.9V445.4 M137.4 433.0V445.5 M138.1 431.1V443.8 M138.7 434.8V447.3 M139.3 427.3V447.6 M139.9 430.7V446.5 M140.6 430.2V442.1 M141.2 427.9V440.1 M141.8 428.5V442.2 M142.4 428.5V439.6 M143.0 432.3V442.5 M143.6 431.2V438.6 M144.2 434.9V442.5 M144.8 434.1V445.0 M145.4 436.3V450.3 M146.1 434.2V447.1 M146.7 436.0V449.3 M147.3 438.7V445.8 M147.9 433.1V446.0 M148.5 438.4V444.0 M149.1 439.5V448.1 M149.7 437.1V447.2 M150.3 437.6V448.1 M151.0 438.4V453.4 M151.6 439.5V447.0 M152.2 435.5V448.8 M152.8 436.3V448.4 M153.4 438.3V449.4 M154.0 432.4V445.5 M154.6 426.7V441.9 M155.2 430.2V444.2 M155.9 428.4V440.6 M156.5 420.7V440.9 M157.1 418.4V441.3 M157.7 426.6V437.1 M158.3 423.2V433.7 M158.9 429.2V433.6 M159.5 427.1V434.7 M160.1 429.8V440.7 M160.8 432.0V436.9 M161.4 430.3V443.2 M162.0 428.4V437.3 M162.6 421.3V439.9 M163.2 426.5V436.9 M163.8 422.8V437.7 M164.4 423.3V436.0 M165.0 424.9V436.1 M165.7 422.7V432.7 M166.3 426.5V434.8 M166.9 426.4V432.2 M167.5 416.9V430.7 M168.1 425.3V432.2 M168.7 424.7V432.9 M169.3 421.3V439.3 M169.9 420.8V435.2 M170.6 429.1V435.5 M171.2 426.6V442.4 M171.8 426.2V442.9 M172.4 424.4V441.0 M173.0 429.3V441.1 M173.7 428.9V433.8 M174.3 419.9V434.7 M175.0 406.4V428.2 M175.6 407.8V420.3 M176.3 395.3V415.9 M176.9 385.3V405.7 M177.6 382.9V408.9 M178.2 391.8V407.6 M178.9 393.5V412.6 M179.5 389.6V408.7 M180.2 384.0V406.9 M180.8 394.4V405.6 M181.5 401.0V413.0 M182.1 405.3V416.6 M182.8 397.7V423.8 M183.4 404.5V422.2 M184.1 423.9V434.1 M184.8 429.4V438.0 M185.4 424.8V445.4 M186.1 432.4V441.7 M186.7 434.0V442.9 M187.3 431.1V440.5 M187.9 433.8V443.4 M188.6 427.5V444.9 M189.2 433.1V440.0 M189.8 426.2V444.3 M190.4 433.1V438.9 M191.0 427.4V442.5 M191.6 430.0V437.6 M192.2 429.4V442.8 M192.8 426.6V443.5 M193.4 431.4V444.2 M194.1 434.4V446.7 M194.7 439.1V451.6 M195.3 436.8V445.7 M195.9 438.4V448.0 M196.5 440.6V450.6 M197.1 434.1V445.8 M197.7 436.4V444.3 M198.3 437.2V449.6 M199.0 434.6V449.6 M199.6 434.3V448.6 M200.2 436.1V443.6 M200.8 433.9V443.8 M201.4 430.9V442.9 M202.0 430.4V446.7 M202.6 433.9V444.0 M203.2 434.8V445.2 M203.9 439.1V450.8 M204.5 435.3V448.6 M205.1 428.5V446.2 M205.7 429.2V444.5 M206.3 423.0V443.3 M206.9 428.3V440.8 M207.5 422.9V440.9 M208.1 419.7V432.1 M208.8 415.2V436.4 M209.4 414.3V427.9 M210.1 411.8V426.7 M210.7 414.5V428.4 M211.4 418.1V428.8 M212.0 417.1V430.3 M212.7 411.7V428.3 M213.3 424.2V432.3 M214.0 426.2V436.9 M214.6 427.8V437.7 M215.2 426.7V433.7 M215.9 428.4V434.2 M216.5 421.0V436.2 M217.1 422.0V437.5 M217.7 429.8V437.6 M218.3 422.9V436.5 M218.9 424.9V439.1 M219.5 430.1V443.6 M220.3 422.3V440.1 M221.0 426.4V443.9" stroke="#ff7878" stroke-opacity="0.22" stroke-width="1" fill="none"/>
<polyline points="36.1,447.5 37.8,451.2 39.8,445.1 41.8,442.6 43.7,440.2 45.7,442.6 47.6,434.0 49.6,430.4 51.6,436.5 53.5,443.8 55.5,441.4 57.4,436.5 59.4,430.4 61.3,427.9 63.3,431.6 65.3,432.8 67.2,438.9 69.2,434.0 71.1,442.6 73.1,445.1 75.1,420.6 76.5,386.3 78.0,369.1 80.0,370.4 81.4,374.0 82.9,388.7 84.4,425.5 85.8,443.8 87.8,432.8 89.8,430.4 91.7,436.5 93.7,441.4 96.1,438.9 98.6,440.2 101.0,445.1 103.0,448.7 104.9,442.6 106.9,436.5 108.9,443.8 110.8,442.6 113.3,431.6 115.2,427.9 117.2,432.8 119.1,424.2 121.1,421.8 123.1,435.3 125.0,427.9 126.5,401.0 127.9,382.6 129.9,383.8 131.9,396.1 133.8,425.5 135.8,447.5 137.7,445.1 139.7,441.4 141.7,445.1 143.6,451.2 145.6,445.1 147.5,440.2 149.5,436.5 151.4,445.1 153.4,442.6 155.4,427.9 157.3,435.3 159.3,450.0 161.2,440.2 163.2,432.8 165.2,443.8 167.1,440.2 169.1,435.3 171.0,425.5 173.0,438.9 175.0,413.2 176.9,386.3 178.4,375.3 180.3,376.5 182.3,391.2 184.3,425.5 186.2,450.0 188.2,454.9 190.1,448.7 192.1,445.1 194.1,457.3 196.5,448.7 199.0,451.2 201.4,450.0 203.9,443.8 206.3,436.5 208.8,430.4 210.7,441.4 212.7,448.7 214.6,430.4 216.6,424.2 218.6,442.6 220.5,425.5 222.0,419.3" fill="none" stroke="#9090ff" stroke-opacity="0.13" stroke-width="11" stroke-linejoin="round"/>
<polyline points="36.1,437.7 37.8,443.8 39.8,441.4 41.8,438.9 43.7,442.6 45.7,441.4 47.6,443.8 49.6,447.5 51.6,450.0 53.5,445.1 55.5,437.7 57.4,438.9 59.4,440.2 61.8,436.5 64.3,438.9 66.7,440.2 68.7,443.8 70.7,436.5 73.1,435.3 75.1,427.9 77.0,405.9 79.0,397.3 80.4,391.2 81.9,383.8 83.4,399.8 84.9,423.0 86.3,437.7 88.3,438.9 90.2,435.3 92.2,437.7 94.2,440.2 96.6,440.2 99.1,440.2 101.5,437.7 104.0,436.5 106.4,435.3 108.9,437.7 111.3,434.0 113.8,431.6 116.2,435.3 118.7,436.5 121.1,436.5 123.1,435.3 125.0,423.0 127.0,405.9 128.9,394.9 130.9,391.2 132.8,408.3 134.8,427.9 136.8,435.3 138.7,438.9 141.2,436.5 143.6,436.5 146.1,442.6 148.5,441.4 151.0,443.8 153.4,441.4 155.9,431.6 158.3,430.4 160.8,434.0 163.2,431.6 165.7,429.1 168.1,427.9 170.6,432.8 173.0,436.5 175.0,420.6 176.9,403.4 178.9,401.0 180.8,403.4 182.8,413.2 184.8,432.8 186.7,438.9 189.2,436.5 191.6,434.0 194.1,441.4 196.5,443.8 199.0,440.2 201.4,438.9 203.9,442.6 206.3,432.8 208.8,427.9 210.7,421.8 212.7,425.5 214.6,430.4 217.1,431.6 219.5,434.0 221.7,432.8" fill="none" stroke="#ff9090" stroke-opacity="0.13" stroke-width="11" stroke-linejoin="round"/>
<polyline points="36.1,447.5 37.8,451.2 39.8,445.1 41.8,442.6 43.7,440.2 45.7,442.6 47.6,434.0 49.6,430.4 51.6,436.5 53.5,443.8 55.5,441.4 57.4,436.5 59.4,430.4 61.3,427.9 63.3,431.6 65.3,432.8 67.2,438.9 69.2,434.0 71.1,442.6 73.1,445.1 75.1,420.6 76.5,386.3 78.0,369.1 80.0,370.4 81.4,374.0 82.9,388.7 84.4,425.5 85.8,443.8 87.8,432.8 89.8,430.4 91.7,436.5 93.7,441.4 96.1,438.9 98.6,440.2 101.0,445.1 103.0,448.7 104.9,442.6 106.9,436.5 108.9,443.8 110.8,442.6 113.3,431.6 115.2,427.9 117.2,432.8 119.1,424.2 121.1,421.8 123.1,435.3 125.0,427.9 126.5,401.0 127.9,382.6 129.9,383.8 131.9,396.1 133.8,425.5 135.8,447.5 137.7,445.1 139.7,441.4 141.7,445.1 143.6,451.2 145.6,445.1 147.5,440.2 149.5,436.5 151.4,445.1 153.4,442.6 155.4,427.9 157.3,435.3 159.3,450.0 161.2,440.2 163.2,432.8 165.2,443.8 167.1,440.2 169.1,435.3 171.0,425.5 173.0,438.9 175.0,413.2 176.9,386.3 178.4,375.3 180.3,376.5 182.3,391.2 184.3,425.5 186.2,450.0 188.2,454.9 190.1,448.7 192.1,445.1 194.1,457.3 196.5,448.7 199.0,451.2 201.4,450.0 203.9,443.8 206.3,436.5 208.8,430.4 210.7,441.4 212.7,448.7 214.6,430.4 216.6,424.2 218.6,442.6 220.5,425.5 222.0,419.3" fill="none" stroke="#2c2cdc" stroke-width="1.3" stroke-linejoin="round"/>
<polyline points="36.1,437.7 37.8,443.8 39.8,441.4 41.8,438.9 43.7,442.6 45.7,441.4 47.6,443.8 49.6,447.5 51.6,450.0 53.5,445.1 55.5,437.7 57.4,438.9 59.4,440.2 61.8,436.5 64.3,438.9 66.7,440.2 68.7,443.8 70.7,436.5 73.1,435.3 75.1,427.9 77.0,405.9 79.0,397.3 80.4,391.2 81.9,383.8 83.4,399.8 84.9,423.0 86.3,437.7 88.3,438.9 90.2,435.3 92.2,437.7 94.2,440.2 96.6,440.2 99.1,440.2 101.5,437.7 104.0,436.5 106.4,435.3 108.9,437.7 111.3,434.0 113.8,431.6 116.2,435.3 118.7,436.5 121.1,436.5 123.1,435.3 125.0,423.0 127.0,405.9 128.9,394.9 130.9,391.2 132.8,408.3 134.8,427.9 136.8,435.3 138.7,438.9 141.2,436.5 143.6,436.5 146.1,442.6 148.5,441.4 151.0,443.8 153.4,441.4 155.9,431.6 158.3,430.4 160.8,434.0 163.2,431.6 165.7,429.1 168.1,427.9 170.6,432.8 173.0,436.5 175.0,420.6 176.9,403.4 178.9,401.0 180.8,403.4 182.8,413.2 184.8,432.8 186.7,438.9 189.2,436.5 191.6,434.0 194.1,441.4 196.5,443.8 199.0,440.2 201.4,438.9 203.9,442.6 206.3,432.8 208.8,427.9 210.7,421.8 212.7,425.5 214.6,430.4 217.1,431.6 219.5,434.0 221.7,432.8" fill="none" stroke="#e0282e" stroke-width="1.3" stroke-linejoin="round"/>
<rect x="19.9" y="324.0" width="44" height="27.100000000000023" fill="#fff"/>
<text x="32.0" y="329.9" font-size="5.2" font-weight="bold" fill="#2a2a2a" text-anchor="start" textLength="23.8" lengthAdjust="spacingAndGlyphs">Data group</text>
<line x1="24.4" y1="335.70000000000005" x2="27.7" y2="335.70000000000005" stroke="#2b2bff" stroke-width="1.2"/>
<text x="32.0" y="338.0" font-size="5.2" font-weight="bold" fill="#2a2a2a" text-anchor="start" textLength="27.3" lengthAdjust="spacingAndGlyphs">Sham Contra</text>
<line x1="24.4" y1="343.70000000000005" x2="27.7" y2="343.70000000000005" stroke="#ff2b2b" stroke-width="1.2"/>
<text x="32.0" y="346.0" font-size="5.2" font-weight="bold" fill="#2a2a2a" text-anchor="start" textLength="22.3" lengthAdjust="spacingAndGlyphs">SNI Contra</text>
<path d="M268.1 326.9V473.6 M280.5 326.9V473.6 M292.9 326.9V473.6 M305.3 326.9V473.6 M317.6 326.9V473.6 M330.0 326.9V473.6 M342.4 326.9V473.6 M354.8 326.9V473.6 M367.2 326.9V473.6 M379.5 326.9V473.6 M391.9 326.9V473.6 M404.3 326.9V473.6 M416.7 326.9V473.6 M429.1 326.9V473.6 M441.4 326.9V473.6 M453.8 326.9V473.6 M466.2 326.9V473.6 M478.6 326.9V473.6 M261.3 457.2H478.6 M261.3 442.4H478.6 M261.3 427.6H478.6 M261.3 412.7H478.6 M261.3 397.9H478.6 M261.3 383.0H478.6 M261.3 368.2H478.6 M261.3 353.4H478.6 M261.3 338.5H478.6" stroke="#ebebeb" stroke-width="0.8" fill="none"/>
<path d="M259.3 472.1H261.3 M259.3 457.2H261.3 M259.3 442.4H261.3 M259.3 427.6H261.3 M259.3 412.7H261.3 M259.3 397.9H261.3 M259.3 383.0H261.3 M259.3 368.2H261.3 M259.3 353.4H261.3 M259.3 338.5H261.3 M259.3 323.7H261.3" stroke="#999" stroke-width="0.6"/>
<line x1="261.3" y1="326.9" x2="261.3" y2="472.08" stroke="#cfcfcf" stroke-width="1.2"/>
<line x1="261.3" y1="472.08" x2="479.08" y2="472.08" stroke="#8a8a8a" stroke-width="0.9"/>
<text x="258.3" y="473.7" font-size="4.8" font-weight="normal" fill="#333" text-anchor="end" textLength="3.8" lengthAdjust="spacingAndGlyphs" stroke="#333" stroke-width="0.12">-4</text>
<text x="258.3" y="458.8" font-size="4.8" font-weight="normal" fill="#333" text-anchor="end" textLength="3.8" lengthAdjust="spacingAndGlyphs" stroke="#333" stroke-width="0.12">-2</text>
<text x="258.3" y="444.0" font-size="4.8" font-weight="normal" fill="#333" text-anchor="end" textLength="1.9" lengthAdjust="spacingAndGlyphs" stroke="#333" stroke-width="0.12">0</text>
<text x="258.3" y="429.2" font-size="4.8" font-weight="normal" fill="#333" text-anchor="end" textLength="1.9" lengthAdjust="spacingAndGlyphs" stroke="#333" stroke-width="0.12">2</text>
<text x="258.3" y="414.3" font-size="4.8" font-weight="normal" fill="#333" text-anchor="end" textLength="1.9" lengthAdjust="spacingAndGlyphs" stroke="#333" stroke-width="0.12">4</text>
<text x="258.3" y="399.5" font-size="4.8" font-weight="normal" fill="#333" text-anchor="end" textLength="1.9" lengthAdjust="spacingAndGlyphs" stroke="#333" stroke-width="0.12">6</text>
<text x="258.3" y="384.6" font-size="4.8" font-weight="normal" fill="#333" text-anchor="end" textLength="1.9" lengthAdjust="spacingAndGlyphs" stroke="#333" stroke-width="0.12">8</text>
<text x="258.3" y="369.8" font-size="4.8" font-weight="normal" fill="#333" text-anchor="end" textLength="3.8" lengthAdjust="spacingAndGlyphs" stroke="#333" stroke-width="0.12">10</text>
<text x="258.3" y="355.0" font-size="4.8" font-weight="normal" fill="#333" text-anchor="end" textLength="3.8" lengthAdjust="spacingAndGlyphs" stroke="#333" stroke-width="0.12">12</text>
<text x="258.3" y="340.1" font-size="4.8" font-weight="normal" fill="#333" text-anchor="end" textLength="3.8" lengthAdjust="spacingAndGlyphs" stroke="#333" stroke-width="0.12">14</text>
<text x="258.3" y="325.3" font-size="4.8" font-weight="normal" fill="#333" text-anchor="end" textLength="3.8" lengthAdjust="spacingAndGlyphs" stroke="#333" stroke-width="0.12">16</text>
<text x="268.1" y="479.0" font-size="4.8" font-weight="normal" fill="#333" text-anchor="middle" textLength="3.8" lengthAdjust="spacingAndGlyphs" stroke="#333" stroke-width="0.12">60</text>
<text x="280.5" y="479.0" font-size="4.8" font-weight="normal" fill="#333" text-anchor="middle" textLength="3.8" lengthAdjust="spacingAndGlyphs" stroke="#333" stroke-width="0.12">80</text>
<text x="292.9" y="479.0" font-size="4.8" font-weight="normal" fill="#333" text-anchor="middle" textLength="5.7" lengthAdjust="spacingAndGlyphs" stroke="#333" stroke-width="0.12">100</text>
<text x="305.3" y="479.0" font-size="4.8" font-weight="normal" fill="#333" text-anchor="middle" textLength="5.7" lengthAdjust="spacingAndGlyphs" stroke="#333" stroke-width="0.12">120</text>
<text x="317.6" y="479.0" font-size="4.8" font-weight="normal" fill="#333" text-anchor="middle" textLength="5.7" lengthAdjust="spacingAndGlyphs" stroke="#333" stroke-width="0.12">140</text>
<text x="330.0" y="479.0" font-size="4.8" font-weight="normal" fill="#333" text-anchor="middle" textLength="5.7" lengthAdjust="spacingAndGlyphs" stroke="#333" stroke-width="0.12">160</text>
<text x="342.4" y="479.0" font-size="4.8" font-weight="normal" fill="#333" text-anchor="middle" textLength="5.7" lengthAdjust="spacingAndGlyphs" stroke="#333" stroke-width="0.12">180</text>
<text x="354.8" y="479.0" font-size="4.8" font-weight="normal" fill="#333" text-anchor="middle" textLength="5.7" lengthAdjust="spacingAndGlyphs" stroke="#333" stroke-width="0.12">200</text>
<text x="367.2" y="479.0" font-size="4.8" font-weight="normal" fill="#333" text-anchor="middle" textLength="5.7" lengthAdjust="spacingAndGlyphs" stroke="#333" stroke-width="0.12">220</text>
<text x="379.5" y="479.0" font-size="4.8" font-weight="normal" fill="#333" text-anchor="middle" textLength="5.7" lengthAdjust="spacingAndGlyphs" stroke="#333" stroke-width="0.12">240</text>
<text x="391.9" y="479.0" font-size="4.8" font-weight="normal" fill="#333" text-anchor="middle" textLength="5.7" lengthAdjust="spacingAndGlyphs" stroke="#333" stroke-width="0.12">260</text>
<text x="404.3" y="479.0" font-size="4.8" font-weight="normal" fill="#333" text-anchor="middle" textLength="5.7" lengthAdjust="spacingAndGlyphs" stroke="#333" stroke-width="0.12">280</text>
<text x="416.7" y="479.0" font-size="4.8" font-weight="normal" fill="#333" text-anchor="middle" textLength="5.7" lengthAdjust="spacingAndGlyphs" stroke="#333" stroke-width="0.12">300</text>
<text x="429.1" y="479.0" font-size="4.8" font-weight="normal" fill="#333" text-anchor="middle" textLength="5.7" lengthAdjust="spacingAndGlyphs" stroke="#333" stroke-width="0.12">320</text>
<text x="441.4" y="479.0" font-size="4.8" font-weight="normal" fill="#333" text-anchor="middle" textLength="5.7" lengthAdjust="spacingAndGlyphs" stroke="#333" stroke-width="0.12">340</text>
<text x="453.8" y="479.0" font-size="4.8" font-weight="normal" fill="#333" text-anchor="middle" textLength="5.7" lengthAdjust="spacingAndGlyphs" stroke="#333" stroke-width="0.12">360</text>
<text x="466.2" y="479.0" font-size="4.8" font-weight="normal" fill="#333" text-anchor="middle" textLength="5.7" lengthAdjust="spacingAndGlyphs" stroke="#333" stroke-width="0.12">380</text>
<text x="478.6" y="479.0" font-size="4.8" font-weight="normal" fill="#333" text-anchor="middle" textLength="5.7" lengthAdjust="spacingAndGlyphs" stroke="#333" stroke-width="0.12">400</text>
<text x="370.3" y="484.7" font-size="5.4" font-weight="bold" fill="#222" text-anchor="middle" textLength="13.2" lengthAdjust="spacingAndGlyphs" stroke="#222" stroke-width="0.2">Time, s</text>
<text x="249.1" y="392" font-size="4.6" font-weight="bold" fill="#666" text-anchor="middle" transform="rotate(-90 249.1 392)" textLength="57.5" lengthAdjust="spacingAndGlyphs">rCBV % Change (filtered)</text>
<text x="264.6" y="317.2" font-size="21" font-weight="bold" fill="#000" stroke="#000" stroke-width="0.5">D</text>
<text x="301.2" y="319.9" font-size="9.9" font-weight="bold" fill="#303030" text-anchor="start" textLength="147.6" lengthAdjust="spacingAndGlyphs">Sham vs. SNI: Ipsilateral Stimulation</text>
<path d="M279.4 440.6V449.9 M280.1 443.9V452.9 M280.7 442.0V455.0 M281.4 437.2V453.7 M282.0 441.7V454.6 M282.7 441.7V455.8 M283.3 444.9V454.4 M284.0 444.8V454.1 M284.6 446.0V454.9 M285.3 448.5V453.8 M285.9 448.3V459.0 M286.6 446.1V460.4 M287.2 446.4V461.8 M287.9 450.4V457.1 M288.6 445.7V454.2 M289.2 442.5V458.4 M289.9 443.3V449.6 M290.5 441.5V445.9 M291.2 436.8V443.5 M291.8 434.5V442.6 M292.5 425.0V442.0 M293.1 423.7V441.8 M293.8 430.0V438.2 M294.4 438.2V443.1 M295.1 440.7V451.6 M295.7 438.2V450.2 M296.4 444.8V456.5 M297.0 447.4V455.9 M297.7 448.7V459.7 M298.3 441.9V453.9 M299.0 446.5V455.1 M299.7 442.1V453.4 M300.3 441.2V447.5 M301.0 431.8V446.1 M301.6 435.9V446.3 M302.3 427.9V438.7 M302.9 425.9V439.6 M303.6 431.6V444.2 M304.2 426.1V445.9 M304.9 431.8V446.2 M305.5 432.2V443.8 M306.2 439.2V443.9 M306.8 438.6V446.0 M307.5 434.5V448.6 M308.1 438.4V447.6 M308.8 434.2V444.2 M309.4 436.3V448.5 M310.1 427.3V445.6 M310.8 426.3V438.7 M311.4 433.4V450.2 M312.1 437.6V452.2 M312.7 441.2V458.6 M313.4 442.4V453.4 M314.0 440.7V453.4 M314.7 442.5V449.4 M315.3 440.9V452.0 M316.0 440.2V451.6 M316.6 434.8V445.0 M317.3 438.2V448.9 M317.9 438.7V447.8 M318.6 436.6V442.6 M319.3 414.5V429.9 M320.1 397.0V420.6 M320.8 394.0V410.2 M321.5 380.7V394.5 M322.3 373.8V390.4 M323.0 366.2V394.0 M323.7 357.5V383.4 M324.5 356.3V381.1 M325.2 350.9V379.8 M325.9 363.1V383.3 M326.7 369.6V398.8 M327.4 387.1V412.5 M328.1 401.3V414.4 M328.7 414.9V424.8 M329.4 417.5V438.6 M330.0 432.5V440.0 M330.7 432.7V446.2 M331.3 442.6V448.9 M332.0 440.8V448.2 M332.6 432.9V449.0 M333.3 430.7V449.2 M333.9 436.7V447.7 M334.6 434.6V444.6 M335.2 435.1V446.0 M335.9 443.0V447.4 M336.6 444.6V456.5 M337.2 446.3V456.4 M337.9 444.5V453.8 M338.5 441.9V453.7 M339.2 437.2V451.2 M339.8 439.1V445.4 M340.5 439.4V445.8 M341.1 438.4V453.7 M341.8 437.8V445.4 M342.4 437.7V446.7 M343.1 432.0V442.6 M343.7 439.8V447.8 M344.4 443.4V448.5 M345.0 443.0V456.0 M345.7 438.3V452.7 M346.3 433.8V444.3 M347.0 427.4V446.4 M347.7 434.0V446.1 M348.3 433.5V438.2 M349.0 427.4V437.7 M349.6 434.3V447.9 M350.3 432.7V445.0 M350.9 435.5V446.2 M351.6 442.0V454.1 M352.2 436.9V448.3 M352.9 439.6V455.8 M353.5 441.2V449.5 M354.2 431.7V444.1 M354.8 436.4V446.5 M355.5 438.3V446.0 M356.1 438.0V444.5 M356.8 436.9V446.7 M357.4 442.0V446.6 M358.1 437.3V453.7 M358.8 438.9V447.1 M359.4 433.9V445.2 M360.1 433.0V440.3 M360.7 424.9V442.4 M361.4 424.4V435.0 M362.0 413.2V425.0 M362.7 402.6V424.7 M363.3 418.0V428.6 M364.0 419.1V431.0 M364.6 422.1V427.5 M365.3 425.7V433.7 M365.9 425.6V435.0 M366.6 430.5V437.4 M367.3 414.9V433.7 M368.1 404.0V423.2 M368.7 399.9V414.6 M369.4 398.4V415.7 M370.0 385.2V403.8 M370.7 386.6V395.0 M371.5 371.5V394.7 M372.2 366.8V379.9 M372.9 368.4V388.7 M373.7 376.3V390.5 M374.4 362.4V393.6 M375.1 382.1V391.9 M375.7 393.5V405.8 M376.4 394.2V414.4 M377.0 407.0V416.6 M377.7 403.9V421.0 M378.3 419.8V436.8 M379.0 426.7V440.9 M379.6 432.0V438.2 M380.3 437.5V449.7 M380.9 436.7V446.4 M381.6 438.4V452.3 M382.2 443.8V449.0 M382.9 439.1V455.0 M383.6 441.4V453.1 M384.2 437.9V449.7 M384.9 438.7V450.7 M385.5 431.3V450.3 M386.2 433.5V448.7 M386.8 430.1V441.9 M387.5 424.7V437.3 M388.1 421.5V436.3 M388.8 426.3V437.5 M389.4 434.5V444.4 M390.1 437.9V444.7 M390.7 443.7V451.1 M391.4 445.7V456.1 M392.0 450.2V463.9 M392.7 445.7V458.6 M393.3 447.0V460.2 M394.0 449.1V456.2 M394.7 441.7V454.2 M395.3 444.6V450.1 M396.0 442.6V451.1 M396.6 437.2V447.2 M397.3 434.3V445.1 M397.9 431.8V447.6 M398.6 431.2V439.2 M399.2 424.3V439.4 M399.9 423.4V437.4 M400.5 427.4V439.4 M401.2 423.8V438.1 M401.8 421.0V437.1 M402.5 430.2V444.1 M403.1 433.4V445.1 M403.8 429.9V447.9 M404.4 427.9V448.2 M405.1 434.4V444.2 M405.8 431.5V441.0 M406.4 434.0V438.4 M407.1 429.5V436.9 M407.7 429.5V440.4 M408.4 429.9V434.9 M409.0 428.0V441.1 M409.7 425.8V434.9 M410.3 419.7V438.5 M411.0 426.1V436.5 M411.6 423.6V438.2 M412.3 425.6V438.0 M412.9 428.6V439.4 M413.6 428.1V437.6 M414.2 434.8V442.7 M414.8 438.1V443.6 M415.4 434.8V445.7 M416.0 443.9V450.2 M416.7 432.9V440.5 M417.3 418.1V436.6 M418.0 404.8V421.9 M418.7 401.9V409.5 M419.3 383.6V406.6 M420.0 367.6V395.4 M420.7 356.7V387.6 M421.4 361.6V382.7 M422.2 376.4V381.9 M422.9 371.9V393.2 M423.6 367.0V397.5 M424.4 386.2V400.9 M425.0 383.9V406.5 M425.7 386.0V406.1 M426.3 390.2V414.4 M427.0 403.6V417.9 M427.6 410.2V426.8 M428.3 411.1V426.7 M428.9 410.7V428.1 M429.6 421.3V430.1 M430.2 427.3V437.0 M430.9 427.4V436.9 M431.6 419.2V440.0 M432.2 417.8V432.7 M432.9 427.2V437.1 M433.5 425.2V434.0 M434.2 416.6V439.0 M434.8 425.5V435.4 M435.5 427.4V436.9 M436.1 427.7V437.5 M436.7 432.6V442.2 M437.3 428.4V445.5 M438.0 435.6V442.4 M438.6 431.4V448.2 M439.2 437.4V443.1 M439.8 432.3V446.5 M440.4 434.5V441.8 M441.0 431.5V444.5 M441.6 423.4V440.8 M442.2 422.9V437.0 M442.9 420.9V435.1 M443.5 423.4V437.6 M444.2 417.2V428.2 M444.9 416.6V428.5 M445.6 420.8V432.4 M446.2 414.2V429.3 M446.9 420.9V430.3 M447.6 424.3V438.1 M448.2 423.1V439.8 M448.9 423.9V439.8 M449.5 427.0V435.0 M450.2 425.1V436.0 M450.8 422.5V435.7 M451.5 423.1V440.7 M452.1 428.2V438.9 M452.8 430.3V441.3 M453.4 431.4V443.9 M454.1 427.5V441.7 M454.7 419.8V439.4 M455.4 423.0V439.2 M456.0 418.3V439.5 M456.7 424.5V437.3 M457.3 421.6V439.7 M458.0 421.2V433.3 M458.7 419.8V439.8 M459.3 419.8V432.4 M460.0 418.2V431.9 M460.6 421.3V434.3 M461.3 422.9V433.1 M461.9 420.3V433.0 M462.6 413.4V429.5 M463.2 423.3V431.5 M463.9 423.4V434.2 M464.5 422.9V433.0" stroke="#7878ff" stroke-opacity="0.22" stroke-width="1" fill="none"/>
<path d="M279.4 426.1V440.2 M280.1 433.7V441.6 M280.7 431.2V444.1 M281.4 437.0V449.9 M282.0 438.7V450.4 M282.7 443.6V452.3 M283.3 447.7V453.8 M284.0 445.2V456.5 M284.6 442.7V449.9 M285.3 444.2V450.3 M285.9 435.2V447.1 M286.6 439.0V451.5 M287.2 440.1V450.6 M287.9 433.4V450.5 M288.6 439.2V451.1 M289.2 438.2V449.4 M289.9 434.2V447.7 M290.5 435.5V450.7 M291.2 435.8V447.6 M291.8 433.4V449.3 M292.5 438.1V444.7 M293.1 432.8V451.3 M293.8 434.7V450.1 M294.4 438.2V449.9 M295.1 444.8V456.8 M295.7 441.0V454.4 M296.4 441.3V452.7 M297.0 448.8V454.7 M297.7 441.8V454.9 M298.3 448.0V453.2 M299.0 447.5V458.9 M299.7 439.4V451.3 M300.3 441.6V451.4 M301.0 439.0V450.9 M301.6 438.8V448.5 M302.3 439.2V449.7 M302.9 441.3V453.0 M303.6 437.2V449.6 M304.2 437.6V444.4 M304.9 429.4V444.5 M305.5 430.0V447.2 M306.2 431.3V445.4 M306.8 437.2V451.7 M307.5 441.7V449.4 M308.1 443.0V448.3 M308.8 441.7V449.6 M309.4 444.4V449.0 M310.1 440.4V455.8 M310.8 441.4V451.5 M311.4 439.8V449.2 M312.1 439.0V452.5 M312.7 441.0V452.4 M313.4 442.9V450.5 M314.0 439.1V449.5 M314.7 438.5V448.1 M315.3 437.6V447.9 M316.0 434.4V447.2 M316.6 436.1V449.5 M317.3 431.0V448.0 M317.9 431.0V447.0 M318.6 422.8V435.6 M319.2 423.0V431.0 M319.9 415.5V428.5 M320.6 409.1V427.9 M321.2 409.8V426.2 M321.9 407.3V422.9 M322.5 410.1V422.6 M323.2 408.0V421.3 M323.8 405.9V421.7 M324.5 397.6V413.2 M325.2 395.7V417.0 M325.9 405.0V417.6 M326.7 405.0V425.2 M327.4 407.2V420.1 M328.1 414.3V425.4 M328.7 425.8V431.6 M329.4 433.0V440.7 M330.0 427.3V443.2 M330.7 437.4V443.0 M331.3 439.1V447.9 M332.0 441.0V451.3 M332.6 435.9V445.1 M333.3 436.7V447.7 M333.9 434.4V445.8 M334.6 440.7V451.7 M335.2 440.6V448.4 M335.9 440.0V445.8 M336.6 432.8V444.0 M337.2 432.0V443.2 M337.9 429.9V444.5 M338.5 425.9V443.6 M339.2 425.8V443.2 M339.8 430.1V438.8 M340.5 429.6V439.9 M341.1 434.9V441.0 M341.8 433.8V445.8 M342.4 436.8V445.4 M343.1 438.1V446.3 M343.7 439.5V449.2 M344.4 435.8V447.2 M345.0 439.5V451.1 M345.7 436.6V453.4 M346.3 441.6V454.7 M347.0 443.5V450.3 M347.7 439.1V456.4 M348.3 441.7V455.7 M349.0 438.4V455.4 M349.6 443.7V450.7 M350.3 439.8V455.2 M350.9 444.1V450.7 M351.6 442.3V450.3 M352.2 443.1V454.3 M352.9 438.2V449.4 M353.5 433.9V449.5 M354.2 432.4V444.2 M354.8 436.9V441.9 M355.5 435.2V446.0 M356.1 434.5V445.5 M356.8 423.7V440.6 M357.4 425.6V445.6 M358.1 435.3V445.0 M358.8 431.2V441.9 M359.4 435.2V439.7 M360.1 432.1V446.0 M360.7 431.3V437.8 M361.4 427.9V442.9 M362.0 435.9V441.4 M362.7 434.6V443.5 M363.3 438.2V446.8 M364.0 435.1V452.5 M364.6 436.4V447.9 M365.3 432.6V451.4 M365.9 433.2V447.7 M366.6 435.4V448.4 M367.2 434.3V443.7 M367.9 426.0V436.0 M368.6 417.1V438.7 M369.3 420.2V433.5 M370.0 419.8V427.9 M370.7 411.2V428.6 M371.3 414.2V420.0 M372.0 397.5V416.4 M372.6 396.8V422.0 M373.3 398.9V408.9 M373.9 395.4V410.4 M374.7 391.3V412.1 M375.4 399.6V416.2 M376.0 402.6V423.5 M376.7 407.4V428.7 M377.3 416.8V434.2 M378.0 421.9V434.0 M378.7 422.0V435.3 M379.3 431.6V444.6 M380.0 430.1V442.2 M380.6 435.1V444.3 M381.3 437.1V446.0 M381.9 434.4V452.7 M382.6 441.7V448.4 M383.2 444.7V450.8 M383.9 438.6V452.2 M384.5 445.4V451.2 M385.2 443.1V457.1 M385.8 441.4V452.8 M386.5 441.3V452.2 M387.1 441.7V456.1 M387.8 443.4V455.6 M388.4 440.8V454.0 M389.1 443.4V455.4 M389.8 447.8V457.6 M390.4 447.7V456.0 M391.1 444.4V459.4 M391.7 447.4V460.8 M392.4 447.2V457.7 M393.0 442.0V455.8 M393.7 444.2V454.4 M394.3 439.9V454.6 M395.0 442.0V456.4 M395.6 443.4V449.9 M396.3 441.3V451.0 M396.9 439.0V449.4 M397.6 432.1V443.4 M398.2 430.1V444.9 M398.9 434.4V440.9 M399.6 434.3V440.7 M400.2 425.4V438.5 M400.9 431.2V438.8 M401.5 430.9V440.5 M402.2 429.7V447.3 M402.8 436.7V443.5 M403.5 439.9V450.1 M404.1 441.5V452.0 M404.8 445.1V450.0 M405.4 440.8V448.9 M406.1 435.4V448.2 M406.7 437.4V451.6 M407.4 433.4V450.1 M408.0 436.6V445.9 M408.7 434.9V447.8 M409.3 429.1V443.2 M410.0 429.4V442.7 M410.7 434.3V439.7 M411.3 434.6V443.6 M412.0 436.2V442.0 M412.6 435.3V448.8 M413.3 437.3V445.9 M413.9 433.8V443.0 M414.6 438.1V446.4 M415.2 436.4V446.7 M415.9 436.9V444.9 M416.5 437.0V447.7 M417.2 427.1V441.0 M417.8 429.0V441.2 M418.5 416.2V431.2 M419.1 414.4V433.3 M419.8 417.8V425.2 M420.4 413.2V420.8 M421.1 408.2V423.8 M421.8 409.9V423.3 M422.4 400.8V419.2 M423.1 404.2V417.4 M423.9 397.7V412.6 M424.6 408.1V418.1 M425.3 407.1V421.0 M426.0 419.0V424.7 M426.7 417.3V435.5 M427.3 424.1V434.1 M428.0 430.7V437.5 M428.6 438.0V442.8 M429.3 441.4V452.5 M429.9 441.1V446.0 M430.6 436.9V450.7 M431.2 436.9V447.2 M431.9 434.6V449.4 M432.5 434.7V443.2 M433.2 433.8V450.3 M433.8 435.9V441.4 M434.5 429.7V438.9 M435.1 432.0V439.5 M435.8 426.3V441.7 M436.4 426.3V441.1 M437.1 430.1V445.4 M437.8 436.2V442.2 M438.4 431.7V445.8 M439.1 435.3V447.0 M439.7 439.2V451.0 M440.4 437.9V447.3 M441.0 438.3V454.5 M441.7 442.2V449.0 M442.3 442.4V450.0 M443.0 441.2V455.4 M443.6 443.5V452.3 M444.3 437.5V450.0 M444.9 440.9V447.8 M445.6 440.9V447.6 M446.2 440.3V445.4 M446.9 440.3V449.4 M447.6 440.4V446.2 M448.2 441.7V447.3 M448.9 440.8V451.5 M449.5 438.4V452.1 M450.2 441.3V447.8 M450.8 441.1V450.8 M451.5 438.8V452.5 M452.1 440.8V453.3 M452.8 442.0V454.6 M453.4 439.1V449.1 M454.1 441.7V446.9 M454.7 434.3V445.7 M455.4 433.0V446.2 M456.0 435.3V443.0 M456.7 434.3V444.7 M457.3 439.4V443.7 M458.0 438.1V451.7 M458.7 437.5V452.6 M459.3 433.2V450.4 M460.0 437.2V450.9 M460.6 430.5V447.2 M461.3 432.0V442.0 M461.9 431.6V441.5 M462.6 436.9V449.2 M463.2 429.2V444.8 M463.9 433.6V445.2 M464.5 434.5V445.0" stroke="#ff7878" stroke-opacity="0.22" stroke-width="1" fill="none"/>
<polyline points="279.4,447.5 281.4,445.1 283.3,448.7 285.3,451.2 287.2,453.6 289.2,451.2 291.2,440.2 293.1,431.6 295.1,445.1 297.0,452.4 299.0,450.0 301.0,440.2 302.9,434.0 304.9,436.5 306.8,443.8 308.8,440.2 310.8,436.5 312.7,448.7 314.7,445.1 316.6,442.6 318.6,440.2 320.1,413.2 321.5,392.4 323.0,378.9 324.5,372.8 325.9,380.2 327.4,398.5 329.4,430.4 331.3,446.3 333.3,440.2 335.2,442.6 337.2,450.0 339.2,441.4 341.1,443.8 343.1,440.2 345.0,448.7 347.0,436.5 349.0,435.3 350.9,443.8 352.9,447.5 354.8,438.9 356.8,443.8 358.8,445.1 360.7,431.6 362.7,418.1 364.6,425.5 366.6,434.0 368.1,418.1 370.0,398.5 371.5,378.9 372.9,376.5 374.4,381.4 376.4,405.9 378.3,425.5 380.3,440.2 382.2,446.3 384.2,443.8 386.2,440.2 388.1,430.4 390.1,442.6 392.0,454.9 394.0,452.4 396.0,445.1 397.9,437.7 399.9,430.4 401.8,431.6 403.8,438.9 405.8,437.7 407.7,432.8 409.7,430.4 411.6,431.6 413.6,434.0 416.0,446.3 418.0,418.1 420.0,383.8 421.4,376.5 422.9,381.4 424.4,394.9 426.3,408.3 428.3,420.6 430.2,431.6 432.2,430.4 434.2,427.9 436.1,435.3 438.6,440.2 441.0,437.7 443.5,426.7 444.9,423.0 446.9,427.9 448.9,430.4 450.8,431.6 452.8,437.7 454.7,430.4 456.7,427.9 458.7,431.6 460.6,427.9 462.6,426.7 464.5,425.5 465.5,424.2" fill="none" stroke="#9090ff" stroke-opacity="0.13" stroke-width="11" stroke-linejoin="round"/>
<polyline points="279.4,436.5 281.4,443.8 283.3,450.0 285.3,446.3 287.2,442.6 289.2,441.4 291.2,443.8 293.1,441.4 295.1,447.5 297.0,451.2 299.0,450.0 301.0,447.5 302.9,443.8 304.9,438.9 306.8,442.6 308.8,446.3 310.8,447.5 312.7,446.3 314.7,443.8 316.6,443.8 318.6,432.8 320.6,416.9 322.5,413.2 324.5,410.8 325.9,408.3 327.4,416.9 329.4,435.3 331.3,443.8 333.3,442.6 335.2,443.8 337.2,440.2 339.2,432.8 341.1,438.9 343.1,442.6 345.0,446.3 347.0,446.3 349.0,447.5 350.9,447.5 352.9,445.1 354.8,438.9 356.8,435.3 358.8,438.9 360.7,434.0 362.7,440.2 364.6,443.8 366.6,440.2 368.6,429.1 370.0,423.0 372.0,413.2 373.9,403.4 375.4,408.3 377.3,425.5 379.3,435.3 381.3,442.6 383.2,447.5 385.2,448.7 387.1,446.3 389.1,450.0 391.1,452.4 393.0,451.2 395.0,448.7 396.9,441.4 398.9,438.9 400.9,435.3 402.8,441.4 404.8,447.5 406.7,442.6 408.7,438.9 410.7,437.7 412.6,438.9 414.6,440.2 416.5,443.8 418.5,425.5 420.4,418.1 422.4,410.8 423.9,409.6 425.3,418.1 427.3,430.4 429.3,445.1 431.2,441.4 433.2,440.2 435.1,435.3 437.1,437.7 439.1,442.6 441.0,446.3 443.0,447.5 444.9,443.8 446.9,442.6 448.9,446.3 450.8,443.8 452.8,447.5 454.7,442.6 456.7,440.2 458.7,443.8 460.6,440.2 462.6,438.9 464.5,436.5 465.5,435.3" fill="none" stroke="#ff9090" stroke-opacity="0.13" stroke-width="11" stroke-linejoin="round"/>
<polyline points="279.4,447.5 281.4,445.1 283.3,448.7 285.3,451.2 287.2,453.6 289.2,451.2 291.2,440.2 293.1,431.6 295.1,445.1 297.0,452.4 299.0,450.0 301.0,440.2 302.9,434.0 304.9,436.5 306.8,443.8 308.8,440.2 310.8,436.5 312.7,448.7 314.7,445.1 316.6,442.6 318.6,440.2 320.1,413.2 321.5,392.4 323.0,378.9 324.5,372.8 325.9,380.2 327.4,398.5 329.4,430.4 331.3,446.3 333.3,440.2 335.2,442.6 337.2,450.0 339.2,441.4 341.1,443.8 343.1,440.2 345.0,448.7 347.0,436.5 349.0,435.3 350.9,443.8 352.9,447.5 354.8,438.9 356.8,443.8 358.8,445.1 360.7,431.6 362.7,418.1 364.6,425.5 366.6,434.0 368.1,418.1 370.0,398.5 371.5,378.9 372.9,376.5 374.4,381.4 376.4,405.9 378.3,425.5 380.3,440.2 382.2,446.3 384.2,443.8 386.2,440.2 388.1,430.4 390.1,442.6 392.0,454.9 394.0,452.4 396.0,445.1 397.9,437.7 399.9,430.4 401.8,431.6 403.8,438.9 405.8,437.7 407.7,432.8 409.7,430.4 411.6,431.6 413.6,434.0 416.0,446.3 418.0,418.1 420.0,383.8 421.4,376.5 422.9,381.4 424.4,394.9 426.3,408.3 428.3,420.6 430.2,431.6 432.2,430.4 434.2,427.9 436.1,435.3 438.6,440.2 441.0,437.7 443.5,426.7 444.9,423.0 446.9,427.9 448.9,430.4 450.8,431.6 452.8,437.7 454.7,430.4 456.7,427.9 458.7,431.6 460.6,427.9 462.6,426.7 464.5,425.5 465.5,424.2" fill="none" stroke="#2c2cdc" stroke-width="1.3" stroke-linejoin="round"/>
<polyline points="279.4,436.5 281.4,443.8 283.3,450.0 285.3,446.3 287.2,442.6 289.2,441.4 291.2,443.8 293.1,441.4 295.1,447.5 297.0,451.2 299.0,450.0 301.0,447.5 302.9,443.8 304.9,438.9 306.8,442.6 308.8,446.3 310.8,447.5 312.7,446.3 314.7,443.8 316.6,443.8 318.6,432.8 320.6,416.9 322.5,413.2 324.5,410.8 325.9,408.3 327.4,416.9 329.4,435.3 331.3,443.8 333.3,442.6 335.2,443.8 337.2,440.2 339.2,432.8 341.1,438.9 343.1,442.6 345.0,446.3 347.0,446.3 349.0,447.5 350.9,447.5 352.9,445.1 354.8,438.9 356.8,435.3 358.8,438.9 360.7,434.0 362.7,440.2 364.6,443.8 366.6,440.2 368.6,429.1 370.0,423.0 372.0,413.2 373.9,403.4 375.4,408.3 377.3,425.5 379.3,435.3 381.3,442.6 383.2,447.5 385.2,448.7 387.1,446.3 389.1,450.0 391.1,452.4 393.0,451.2 395.0,448.7 396.9,441.4 398.9,438.9 400.9,435.3 402.8,441.4 404.8,447.5 406.7,442.6 408.7,438.9 410.7,437.7 412.6,438.9 414.6,440.2 416.5,443.8 418.5,425.5 420.4,418.1 422.4,410.8 423.9,409.6 425.3,418.1 427.3,430.4 429.3,445.1 431.2,441.4 433.2,440.2 435.1,435.3 437.1,437.7 439.1,442.6 441.0,446.3 443.0,447.5 444.9,443.8 446.9,442.6 448.9,446.3 450.8,443.8 452.8,447.5 454.7,442.6 456.7,440.2 458.7,443.8 460.6,440.2 462.6,438.9 464.5,436.5 465.5,435.3" fill="none" stroke="#e0282e" stroke-width="1.3" stroke-linejoin="round"/>
<rect x="262.8" y="324.0" width="44" height="27.100000000000023" fill="#fff"/>
<text x="279.0" y="329.9" font-size="5.2" font-weight="bold" fill="#2a2a2a" text-anchor="start" textLength="24.9" lengthAdjust="spacingAndGlyphs">Data group</text>
<line x1="270.0" y1="335.70000000000005" x2="273.3" y2="335.70000000000005" stroke="#2b2bff" stroke-width="1.2"/>
<text x="279.0" y="338.0" font-size="5.2" font-weight="bold" fill="#2a2a2a" text-anchor="start" textLength="21.8" lengthAdjust="spacingAndGlyphs">Sham Ipsi</text>
<line x1="270.0" y1="343.70000000000005" x2="273.3" y2="343.70000000000005" stroke="#ff2b2b" stroke-width="1.2"/>
<text x="279.0" y="346.0" font-size="5.2" font-weight="bold" fill="#2a2a2a" text-anchor="start" textLength="17.3" lengthAdjust="spacingAndGlyphs">SNI Ipsi</text>
<text x="323.8" y="363.0" font-size="13.5" font-weight="bold" fill="#4a4a55" text-anchor="middle">*</text>
<text x="371.6" y="363.0" font-size="13.5" font-weight="bold" fill="#4a4a55" text-anchor="middle">*</text>
<text x="420.8" y="363.0" font-size="13.5" font-weight="bold" fill="#4a4a55" text-anchor="middle">*</text>
</svg></body></html>
